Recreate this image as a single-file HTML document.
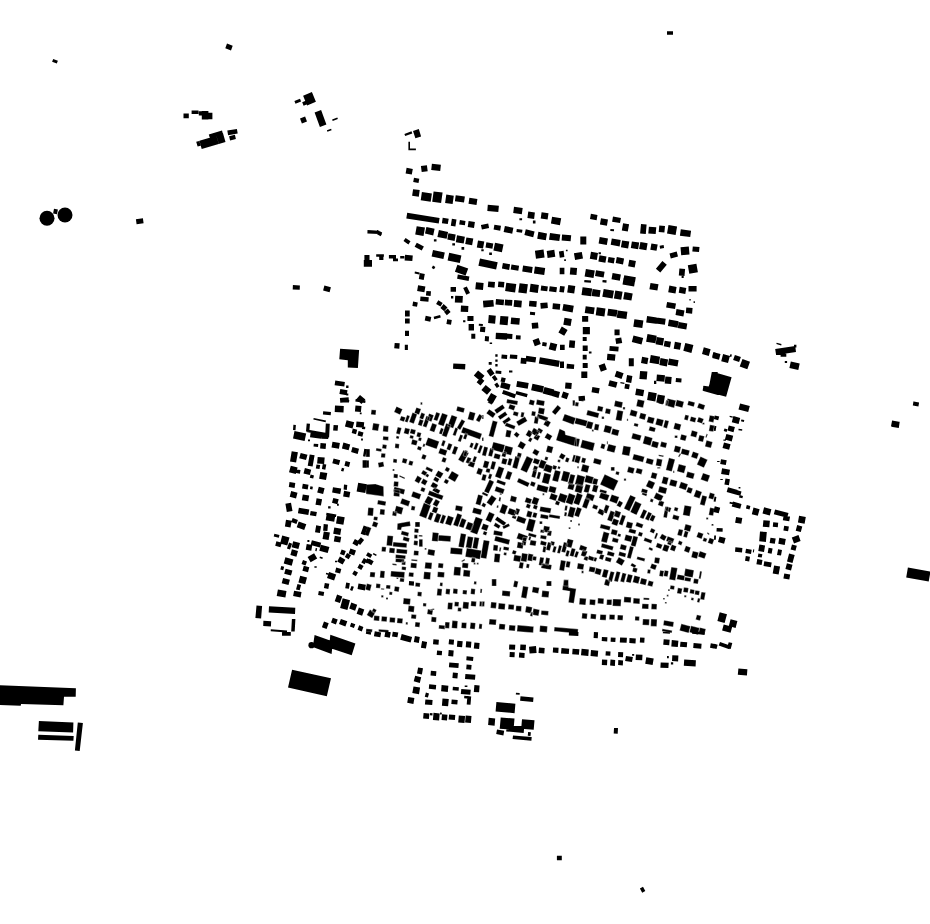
<!DOCTYPE html>
<html><head><meta charset="utf-8"><style>html,body{margin:0;padding:0;background:#fff;width:930px;height:924px;overflow:hidden}svg{display:block}</style></head>
<body><svg width="930" height="924" viewBox="0 0 930 924"><g fill="#000"><path stroke="#fff" stroke-width="0.35" d="M371.4 409.7 376.1 410.1 375.7 414.9 370.9 414.5ZM373.2 423.0 379.4 424.1 378.1 431.0 372.0 429.9ZM383.3 425.6 388.6 426.1 388.1 432.1 382.8 431.6ZM383.1 436.2 388.6 436.7 388.3 440.4 382.8 439.9ZM382.7 444.3 386.9 445.1 386.2 449.0 382.0 448.3ZM376.3 448.0 381.8 449.0 381.3 451.7 375.8 450.7ZM381.3 453.2 385.5 453.5 385.1 457.8 380.9 457.4ZM377.9 462.7 383.3 461.7 384.2 466.6 378.8 467.6ZM365.9 449.0 369.9 449.0 369.9 457.0 365.9 457.0ZM366.0 460.3 369.0 460.3 369.0 467.8 366.0 467.8ZM366.0 484.4 375.4 483.9 383.6 486.4 383.8 496.4 366.0 493.9ZM378.0 500.1 386.1 501.6 385.4 505.8 377.2 504.3ZM368.2 507.5 373.7 508.0 373.0 516.0 367.5 515.5ZM380.2 509.0 384.9 509.4 384.5 514.9 379.7 514.5ZM394.0 489.6 400.0 490.2 399.5 496.7 393.5 496.1ZM402.0 498.2 410.2 501.2 408.4 506.4 400.1 503.4ZM396.2 505.7 403.4 507.7 401.6 514.5 394.3 512.5ZM392.9 511.0 397.1 511.8 396.3 516.2 392.1 515.5ZM411.6 505.8 415.3 506.4 414.6 510.6 410.9 510.0ZM413.0 491.3 421.3 494.3 419.4 499.5 411.1 496.5ZM667.5 398.4 676.0 400.6 674.1 407.9 665.6 405.6ZM676.8 399.8 684.0 401.7 682.4 407.8 675.1 405.8ZM688.5 400.7 695.0 402.5 693.8 406.8 687.3 405.1ZM698.9 403.0 705.2 405.3 703.5 410.0 697.1 407.7ZM675.0 422.7 681.3 424.4 679.7 430.5 673.4 428.8ZM685.3 414.7 689.0 415.6 687.7 420.5 684.0 419.5ZM691.0 416.4 696.3 417.9 695.1 422.5 689.7 421.0ZM698.6 417.0 703.8 418.9 702.0 423.6 696.9 421.8ZM702.4 422.7 704.5 422.7 704.5 424.5 702.4 424.5ZM709.7 415.3 714.6 416.2 713.5 422.4 708.6 421.5ZM709.9 424.8 714.4 425.5 713.3 431.7 708.8 430.9ZM674.7 435.4 677.5 435.4 677.5 437.9 674.7 437.9ZM681.3 434.2 686.9 435.7 685.4 441.1 679.9 439.6ZM691.9 430.3 697.7 431.9 696.2 437.5 690.4 435.9ZM699.4 434.9 704.5 436.3 703.0 442.1 697.9 440.8ZM706.6 433.8 707.8 434.2 706.5 437.8 705.4 437.3ZM706.5 440.3 712.6 442.0 710.9 448.0 704.9 446.4ZM669.0 457.8 675.1 459.4 671.8 471.5 665.8 469.9ZM673.1 470.7 674.3 470.7 674.3 472.9 673.1 472.9ZM675.2 445.4 681.1 447.0 679.4 453.0 673.6 451.5ZM682.1 448.4 689.8 450.5 688.4 455.8 680.7 453.7ZM680.0 453.3 681.1 453.9 679.2 457.2 678.1 456.6ZM693.0 451.4 698.8 453.6 696.9 459.0 691.0 456.9ZM700.5 456.5 707.6 459.8 703.9 467.8 696.8 464.5ZM678.8 464.1 686.1 466.0 684.1 473.3 676.9 471.3ZM687.4 471.6 694.7 473.5 693.2 479.1 685.9 477.1ZM703.0 472.9 710.1 475.4 707.7 482.0 700.6 479.5ZM670.7 479.2 677.5 481.0 675.9 487.0 669.1 485.2ZM680.9 481.8 688.0 484.3 685.8 490.2 678.8 487.7ZM688.2 486.9 692.9 488.6 691.1 493.8 686.3 492.1ZM696.1 489.8 702.0 491.9 699.5 498.5 693.6 496.4ZM702.3 495.2 707.1 496.5 704.6 505.7 699.8 504.4ZM709.9 492.6 714.8 493.9 713.3 499.5 708.4 498.2ZM666.7 506.2 671.4 507.9 669.9 512.2 665.2 510.5ZM674.8 506.9 678.4 507.9 677.4 511.5 673.8 510.5ZM684.5 505.2 691.5 506.4 689.7 516.3 682.8 515.1ZM710.0 507.6 714.5 508.4 713.2 515.8 708.7 515.0ZM374.0 516.4 377.9 517.1 377.3 520.6 373.4 519.9ZM373.5 521.2 378.3 522.9 376.5 527.6 371.8 525.9ZM367.4 526.5 371.4 527.9 368.4 536.2 364.4 534.7ZM397.4 523.5 409.9 521.3 410.6 526.0 401.8 527.3 401.1 530.1 397.1 529.8ZM401.8 530.8 409.0 532.7 408.1 536.4 400.8 534.4ZM403.6 536.6 409.7 538.2 408.7 541.9 402.7 540.2ZM387.4 535.5 393.2 536.0 392.3 546.0 386.5 545.5ZM393.2 542.0 407.0 543.2 406.6 547.7 392.8 546.5ZM381.9 546.7 386.2 547.1 385.7 551.8 381.5 551.5ZM389.5 547.8 395.0 548.3 394.5 553.3 389.0 552.8ZM396.6 548.8 407.3 549.7 407.0 554.0 396.2 553.1ZM395.7 554.5 405.7 555.4 405.4 559.1 395.4 558.2ZM395.7 558.3 404.4 559.1 404.1 562.8 395.4 562.1ZM401.9 561.0 405.7 561.4 405.4 565.1 401.6 564.8ZM392.4 563.6 396.7 564.0 396.6 565.5 392.3 565.1ZM401.9 566.5 406.2 566.9 405.9 570.2 401.6 569.8ZM415.1 521.9 419.9 521.9 419.9 526.9 415.1 526.9ZM414.5 528.5 418.8 528.9 418.4 532.9 414.2 532.5ZM414.2 534.8 417.5 534.8 417.5 538.6 414.2 538.6ZM418.8 534.9 422.5 535.2 422.4 536.7 418.7 536.4ZM414.0 540.6 418.0 540.9 417.6 545.4 413.6 545.1ZM419.0 539.2 422.7 539.2 422.7 546.8 419.0 546.8ZM414.0 550.4 418.8 550.9 418.4 555.6 413.6 555.2ZM411.4 559.2 417.4 559.7 417.3 561.2 411.3 560.7ZM410.9 562.8 416.9 563.3 416.5 568.3 410.5 567.8ZM409.0 572.3 413.8 572.7 413.4 577.0 408.6 576.5ZM424.7 548.0 426.5 548.0 426.5 549.8 424.7 549.8ZM428.3 549.0 435.2 550.2 434.2 555.9 427.3 554.6ZM432.6 532.3 438.8 532.9 438.0 541.6 431.8 541.1ZM438.5 534.9 451.0 536.0 450.5 541.8 438.0 540.7ZM425.3 562.2 432.0 562.8 431.5 569.0 424.7 568.4ZM438.4 563.0 443.4 563.4 443.0 568.2 438.0 567.7ZM424.1 571.7 430.8 572.3 430.2 579.6 423.4 579.0ZM437.8 571.7 444.5 572.3 444.1 577.5 437.3 577.0ZM450.7 547.5 462.7 548.5 462.1 554.8 450.1 553.8ZM460.8 533.2 466.2 534.2 463.8 547.8 458.4 546.8ZM467.7 536.3 473.4 537.3 471.4 548.4 465.7 547.4ZM474.4 537.0 479.3 537.9 477.3 549.0 472.4 548.1ZM466.7 548.0 481.5 550.6 480.0 559.3 465.2 556.7ZM471.9 557.1 475.6 557.8 474.7 562.7 471.0 562.1ZM473.7 562.8 475.5 562.8 475.5 564.6 473.7 564.6ZM476.8 562.8 478.6 562.8 478.6 564.6 476.8 564.6ZM461.3 561.0 464.6 559.1 465.2 560.2 462.0 562.0ZM462.4 562.8 468.4 563.3 468.0 568.3 462.0 567.8ZM454.3 566.7 461.0 567.3 460.3 575.8 453.5 575.2ZM463.6 569.8 470.3 570.4 469.8 576.9 463.0 576.3ZM370.2 571.9 375.2 572.3 374.8 577.3 369.8 576.9ZM380.4 570.7 384.9 571.1 384.3 578.1 379.8 577.7ZM391.0 570.9 404.8 572.1 404.3 577.9 390.5 576.6ZM400.1 578.0 404.3 578.3 404.0 582.1 399.7 581.7ZM396.5 577.6 398.3 577.6 398.3 579.1 396.5 579.1ZM366.9 583.5 371.7 584.8 370.1 590.9 365.3 589.6ZM376.2 583.6 380.5 584.0 380.1 588.2 375.9 587.9ZM381.0 588.3 384.3 588.6 384.1 589.8 380.9 589.5ZM386.3 584.9 390.5 585.2 390.2 589.0 385.9 588.6ZM394.8 586.2 399.5 587.0 398.7 591.9 394.0 591.1ZM389.4 591.8 392.4 592.1 392.1 595.1 389.1 594.8ZM381.2 595.2 383.4 595.2 383.4 597.5 381.2 597.5ZM386.0 597.5 388.0 597.5 388.0 599.5 386.0 599.5ZM415.5 582.5 420.3 582.9 419.9 586.9 415.2 586.5ZM417.7 591.8 421.9 592.1 421.5 596.4 417.3 596.0ZM403.6 598.1 410.6 598.7 410.0 604.7 403.0 604.1ZM408.5 605.6 414.5 606.2 413.9 612.2 407.9 611.6ZM411.4 614.3 416.4 614.8 416.0 619.0 411.0 618.6ZM415.3 622.0 420.1 622.4 419.6 627.2 414.9 626.8ZM423.1 603.0 426.4 603.3 426.1 606.5 422.9 606.2ZM427.9 609.1 433.1 610.0 432.2 615.0 427.0 614.0ZM429.9 609.3 434.1 608.5 434.4 609.8 430.2 610.5ZM431.5 616.8 436.5 617.3 436.1 622.3 431.1 621.8ZM440.1 582.5 442.8 582.8 442.5 586.3 439.8 586.0ZM437.4 588.6 442.1 589.0 441.5 595.8 436.8 595.4ZM446.0 588.8 450.2 589.1 449.7 594.4 445.5 594.0ZM453.3 588.6 457.8 589.0 457.4 594.0 452.9 593.6ZM462.9 589.9 467.1 590.3 466.7 594.5 462.5 594.1ZM471.1 588.6 475.3 589.0 474.8 594.5 470.6 594.1ZM480.4 588.7 482.2 588.9 481.8 593.1 480.1 593.0ZM474.1 581.2 476.6 581.4 476.3 584.4 473.8 584.2ZM448.0 602.4 452.8 602.8 452.2 609.6 447.4 609.2ZM454.7 601.7 459.0 602.1 458.6 606.6 454.3 606.2ZM457.9 607.5 461.4 607.8 461.1 611.6 457.6 611.2ZM463.2 601.8 469.0 602.3 468.4 609.0 462.6 608.5ZM471.2 601.1 476.4 601.6 476.0 606.6 470.7 606.1ZM479.7 601.3 482.2 601.5 481.8 606.5 479.3 606.3ZM439.0 624.9 445.2 625.5 444.9 629.2 438.7 628.7ZM445.2 621.9 449.7 622.3 449.2 628.5 444.7 628.1ZM452.3 620.6 457.8 621.1 457.2 628.6 451.7 628.1ZM461.7 622.4 466.7 622.8 466.2 628.6 461.2 628.1ZM470.5 622.5 475.5 622.9 474.9 629.2 469.9 628.7ZM479.2 623.8 482.2 624.1 481.8 629.1 478.8 628.8ZM369.9 609.6 375.3 612.8 372.2 618.2 366.7 615.1ZM373.5 608.2 376.7 610.1 374.8 613.4 371.6 611.5ZM374.1 615.6 379.6 616.0 379.2 621.1 373.7 620.6ZM381.7 616.2 387.2 616.7 386.7 621.7 381.2 621.2ZM389.8 617.2 395.3 617.7 394.9 622.7 389.4 622.2ZM397.4 618.1 402.9 618.6 402.4 623.6 396.9 623.1ZM405.9 622.0 407.9 622.2 407.7 624.7 405.7 624.5ZM366.1 628.7 372.4 629.3 372.1 632.3 365.9 631.7ZM378.7 629.2 388.7 630.1 388.5 632.6 378.5 631.7ZM502.3 590.5 510.3 591.2 509.9 596.4 501.9 595.7ZM523.0 586.0 528.4 587.0 526.4 598.4 521.0 597.4ZM532.9 586.7 539.3 587.8 538.3 593.5 531.9 592.3ZM542.2 590.6 549.2 591.3 548.6 597.5 541.6 596.9ZM563.6 580.0 568.6 579.8 568.6 587.6 576.2 588.8 573.9 603.2 568.4 602.6 569.9 591.3 562.3 590.1ZM579.7 598.1 586.2 598.6 585.6 605.1 579.1 604.6ZM589.8 599.2 595.6 599.7 595.1 605.2 589.4 604.7ZM482.2 601.3 484.7 601.5 484.3 606.5 481.8 606.3ZM491.1 601.9 496.6 602.4 496.0 608.4 490.5 607.9ZM498.6 603.1 505.3 603.7 504.8 609.7 498.1 609.1ZM508.5 604.3 514.2 604.8 513.8 609.8 508.0 609.3ZM516.1 605.7 521.6 606.1 521.2 611.4 515.7 610.9ZM526.2 606.1 532.3 607.2 531.2 613.4 525.1 612.3ZM533.4 608.6 539.6 609.7 538.5 615.9 532.3 614.8ZM530.7 611.8 533.2 612.3 532.5 616.5 530.0 616.1ZM541.3 610.5 548.6 611.1 548.2 615.4 541.0 614.7ZM582.2 613.1 587.4 613.5 586.9 619.0 581.7 618.6ZM590.8 613.7 596.3 614.2 595.9 619.2 590.4 618.7ZM489.4 619.0 496.4 619.6 495.9 625.1 488.9 624.5ZM499.3 623.7 505.3 624.2 504.8 629.7 498.8 629.2ZM509.2 625.0 515.5 625.5 515.0 631.0 508.8 630.5ZM517.5 625.1 533.7 626.6 533.2 632.8 516.9 631.4ZM540.0 625.5 547.5 626.2 547.0 632.4 539.5 631.8ZM554.4 627.1 578.2 629.1 577.8 633.4 554.0 631.3ZM679.1 540.6 682.6 541.9 681.3 545.4 677.8 544.1ZM678.9 529.0 683.2 530.1 681.6 536.2 677.2 535.0ZM685.5 524.1 691.6 525.7 690.0 531.8 683.9 530.1ZM684.9 530.7 688.5 531.7 686.9 537.7 683.2 536.7ZM698.3 531.9 703.5 533.8 701.6 539.0 696.4 537.1ZM703.8 537.6 707.3 538.8 706.1 542.1 702.6 540.9ZM709.6 537.7 714.3 539.4 712.4 544.6 707.7 542.8ZM707.7 532.3 709.6 533.9 708.8 534.9 706.9 533.2ZM685.9 545.7 690.8 547.5 688.9 552.9 683.9 551.1ZM692.8 551.0 698.7 552.5 697.0 558.8 691.2 557.3ZM699.9 551.0 706.5 553.4 704.5 558.8 697.9 556.4ZM673.4 514.6 679.4 516.3 678.3 520.4 672.2 518.8ZM706.2 517.5 708.2 517.5 708.2 519.5 706.2 519.5ZM711.5 523.9 713.5 523.9 713.5 525.7 711.5 525.7ZM671.3 567.0 677.5 568.1 675.3 580.5 669.1 579.4ZM677.6 574.4 685.0 575.7 684.1 580.6 676.7 579.3ZM685.3 568.6 694.0 570.2 692.7 577.6 684.0 576.1ZM685.0 577.0 691.2 578.1 690.5 581.8 684.3 580.7ZM694.0 578.5 698.7 579.3 697.9 584.0 693.2 583.2ZM700.0 571.1 702.0 571.5 700.6 578.9 698.7 578.5ZM668.0 589.2 669.8 589.2 669.8 590.9 668.0 590.9ZM666.8 594.8 668.5 594.8 668.5 596.6 666.8 596.6ZM663.0 598.1 664.8 598.1 664.8 599.6 663.0 599.6ZM664.9 601.9 666.7 601.9 666.7 603.4 664.9 603.4ZM670.5 585.3 674.7 586.1 674.1 589.8 669.9 589.0ZM677.9 587.8 682.3 588.6 681.3 594.1 676.9 593.3ZM683.9 587.3 688.6 588.1 687.8 592.8 683.1 592.0ZM690.3 589.1 694.7 589.9 694.0 594.1 689.6 593.3ZM695.3 590.3 699.8 591.1 699.0 595.3 694.6 594.5ZM701.4 591.9 705.6 592.6 704.3 600.0 700.1 599.3ZM684.2 595.3 686.3 595.3 686.3 597.3 684.2 597.3ZM691.4 597.6 693.9 598.1 693.4 600.6 690.9 600.1ZM698.0 598.0 700.4 598.6 699.3 602.7 696.9 602.1ZM597.9 598.1 603.9 598.4 603.6 603.9 597.6 603.6ZM606.9 599.4 611.9 599.6 611.7 605.1 606.6 604.9ZM612.9 598.9 621.2 599.3 620.8 606.3 612.5 605.9ZM624.1 596.8 631.2 597.2 630.9 602.7 623.8 602.3ZM633.4 598.1 639.9 598.4 639.7 603.9 633.1 603.6ZM643.5 597.7 649.3 598.0 649.2 600.0 643.4 599.7ZM642.2 603.7 648.7 604.0 648.5 609.1 641.9 608.7ZM651.5 603.7 657.0 604.0 656.7 609.5 651.2 609.2ZM600.2 614.4 606.2 614.7 605.9 620.2 599.9 619.9ZM609.4 614.4 614.9 614.7 614.7 619.7 609.2 619.4ZM617.6 615.0 623.1 615.3 622.8 620.3 617.3 620.0ZM635.1 616.3 639.4 616.5 639.2 620.8 634.9 620.6ZM642.9 618.9 649.4 619.2 649.1 625.3 642.5 624.9ZM651.0 618.9 657.1 619.2 656.7 626.5 650.7 626.2ZM664.0 620.2 673.9 622.0 673.1 626.9 663.2 625.2ZM681.3 623.8 690.5 626.3 688.7 633.1 679.5 630.6ZM691.0 625.8 699.8 628.1 698.0 634.7 689.3 632.3ZM696.9 614.7 701.3 615.8 700.0 620.7 695.6 619.5ZM699.8 627.4 705.9 629.0 704.3 635.1 698.2 633.5ZM662.3 628.8 672.2 630.5 671.8 633.0 661.9 631.2ZM489.5 399.3 493.5 401.6 491.7 404.7 487.6 402.4ZM507.1 399.1 518.0 401.0 517.3 405.0 506.4 403.0ZM509.8 404.0 515.5 406.1 513.9 410.5 508.3 408.4ZM530.0 399.4 534.9 400.7 533.6 405.6 528.7 404.3ZM536.9 399.6 544.8 401.0 543.9 406.0 536.0 404.6ZM572.6 400.2 575.0 400.2 575.0 405.8 572.6 405.8ZM489.2 409.2 495.8 413.8 492.9 418.0 486.3 413.3ZM494.2 410.1 502.5 404.4 505.0 408.0 496.8 413.8ZM497.8 416.6 505.2 411.4 507.5 414.7 500.1 419.8ZM502.3 421.5 508.9 416.8 511.0 419.8 504.4 424.4ZM506.1 422.5 515.5 426.0 514.3 429.4 504.8 426.0ZM482.0 414.9 483.6 414.9 483.6 418.9 482.0 418.9ZM492.7 420.5 497.6 421.8 493.4 437.3 488.6 436.0ZM506.5 429.8 511.5 430.7 510.2 437.6 505.3 436.8ZM516.3 431.8 519.7 434.6 517.1 437.7 513.7 434.8ZM513.8 411.2 518.7 412.5 517.6 416.4 512.8 415.1ZM521.4 412.1 524.4 412.6 523.5 417.5 520.5 417.0ZM516.1 421.7 524.9 416.6 527.4 421.0 518.7 426.0ZM532.0 411.0 535.9 411.7 535.1 416.2 531.2 415.5ZM538.9 407.6 544.9 408.6 543.8 414.6 537.9 413.5ZM537.9 413.8 548.3 417.6 546.9 421.4 536.5 417.6ZM535.0 416.3 538.9 417.0 537.7 423.9 533.8 423.3ZM546.2 419.6 550.9 422.3 548.1 427.2 543.4 424.4ZM557.6 405.1 561.2 408.1 555.3 415.0 551.8 412.0ZM564.6 413.9 575.9 418.1 573.5 424.7 562.2 420.6ZM559.5 428.7 565.0 431.2 565.5 434.7 576.6 437.7 576.6 446.8 556.0 440.3ZM528.6 429.8 533.0 432.4 530.0 437.6 525.6 435.1ZM533.8 427.8 539.9 431.4 536.9 436.6 530.8 433.1ZM538.7 427.7 543.1 430.2 541.0 433.7 536.7 431.2ZM535.9 433.8 540.3 436.3 537.8 440.7 533.4 438.2ZM530.0 437.3 532.6 438.8 530.6 442.3 528.0 440.7ZM547.2 432.9 552.4 435.9 549.7 440.6 544.5 437.6ZM520.6 441.0 526.0 444.2 522.9 449.6 517.5 446.4ZM547.6 445.4 553.4 447.0 551.7 453.2 545.9 451.7ZM534.7 448.8 539.5 451.6 537.0 455.9 532.2 453.1ZM482.0 437.4 483.6 437.4 483.6 441.1 482.0 441.1ZM493.3 441.9 505.0 445.0 502.9 452.8 491.2 449.6ZM505.3 445.4 513.1 447.5 511.0 455.3 503.2 453.2ZM494.8 453.2 500.7 454.7 499.4 459.6 493.5 458.0ZM502.9 451.4 506.7 452.4 505.4 457.3 501.5 456.3ZM484.2 446.4 488.1 447.5 485.8 456.2 481.9 455.2ZM490.2 447.9 494.0 449.0 492.0 456.8 488.1 455.7ZM502.6 458.0 507.5 459.3 506.0 464.8 501.2 463.5ZM509.0 458.0 512.5 459.0 510.7 465.8 507.2 464.8ZM517.9 452.4 521.8 453.5 520.5 458.3 516.6 457.3ZM515.4 455.9 520.2 457.2 517.1 468.9 512.2 467.6ZM526.8 456.1 533.2 459.1 526.8 472.7 520.4 469.8ZM534.4 458.0 540.1 460.1 538.3 464.8 532.7 462.7ZM540.9 459.6 546.6 461.7 543.9 469.2 538.2 467.2ZM534.3 465.4 538.1 466.8 536.4 471.5 532.6 470.1ZM545.4 456.5 548.3 457.3 547.4 460.6 544.5 459.8ZM545.6 463.8 553.1 466.5 550.7 473.1 543.1 470.4ZM553.3 464.9 557.1 466.2 555.7 470.0 551.9 468.6ZM558.3 466.1 560.5 466.9 559.7 469.2 557.5 468.4ZM561.3 452.9 565.7 455.4 563.1 459.8 558.8 457.3ZM566.4 457.2 569.6 458.4 568.1 462.6 564.9 461.4ZM557.9 459.4 560.5 459.8 560.1 462.4 557.5 462.0ZM573.5 454.7 575.9 455.3 574.1 462.1 571.7 461.5ZM484.5 460.4 489.4 461.7 487.5 468.5 482.7 467.2ZM492.2 461.0 496.1 462.1 494.0 469.8 490.1 468.8ZM486.6 468.0 490.5 469.0 489.5 472.9 485.6 471.9ZM498.7 466.2 504.3 468.3 500.6 478.7 494.9 476.6ZM507.7 470.8 512.4 472.6 509.7 480.1 504.9 478.4ZM482.9 474.1 486.7 475.1 485.2 480.9 481.3 479.9ZM489.5 473.6 492.3 474.6 490.6 479.4 487.8 478.3ZM489.5 479.6 494.1 481.7 488.6 493.6 484.0 491.4ZM497.5 479.4 506.0 482.5 504.8 485.7 496.3 482.6ZM496.2 486.2 504.7 489.3 503.0 494.0 494.5 490.9ZM518.7 478.0 529.7 483.1 527.8 487.1 516.9 482.0ZM531.4 481.2 535.8 482.8 534.2 486.9 529.9 485.3ZM533.4 469.1 537.3 470.1 535.2 477.9 531.4 476.8ZM538.3 471.7 541.2 472.5 539.4 479.3 536.5 478.5ZM544.3 472.7 551.1 474.6 548.5 484.3 541.7 482.5ZM555.0 469.9 560.8 471.4 558.0 482.1 552.1 480.6ZM563.4 470.7 570.2 472.5 567.6 482.3 560.8 480.4ZM570.5 474.0 575.3 475.3 572.7 485.0 567.8 483.7ZM537.8 484.2 548.5 487.1 547.0 492.9 536.3 490.1ZM549.8 485.8 556.6 487.6 555.1 493.4 548.3 491.6ZM568.9 482.9 574.8 484.4 573.2 490.3 567.4 488.7ZM575.4 401.9 578.9 402.6 578.2 406.5 574.7 405.9ZM579.7 399.6 583.6 400.3 583.4 401.4 579.5 400.7ZM615.2 400.6 622.9 402.2 621.7 407.9 614.0 406.3ZM622.9 407.1 625.1 407.1 625.1 409.4 622.9 409.4ZM637.7 399.3 644.6 400.8 643.1 407.7 636.2 406.2ZM659.2 399.5 663.8 400.4 662.9 404.6 658.4 403.6ZM666.1 400.0 668.5 400.5 667.5 406.0 665.1 405.6ZM598.0 405.7 603.3 406.9 602.3 411.8 597.0 410.7ZM606.0 408.3 610.9 409.3 609.9 414.3 604.9 413.2ZM587.6 410.1 599.3 413.2 598.0 418.1 586.3 415.0ZM601.7 416.6 604.1 416.6 604.1 419.0 601.7 419.0ZM617.4 410.1 623.3 411.2 621.6 421.1 615.6 420.0ZM626.9 418.7 628.1 418.7 628.1 420.9 626.9 420.9ZM631.0 409.6 637.6 411.4 636.1 417.0 629.5 415.2ZM640.5 412.7 646.3 414.3 644.8 419.9 639.0 418.3ZM648.3 416.4 654.7 418.1 653.1 423.9 646.7 422.2ZM657.0 418.2 663.8 420.0 662.1 426.5 655.3 424.6ZM665.1 419.9 669.0 421.0 667.0 428.4 663.2 427.3ZM634.4 422.9 638.5 424.0 637.7 426.9 633.7 425.8ZM649.8 426.2 655.8 427.9 654.6 432.1 648.6 430.5ZM576.0 417.7 587.7 420.8 586.1 426.6 574.4 423.5ZM587.6 421.0 593.4 422.5 591.6 429.3 585.8 427.8ZM595.0 423.8 599.3 424.6 598.3 430.5 593.9 429.8ZM591.9 429.4 593.7 429.4 593.7 431.4 591.9 431.4ZM605.2 424.9 612.0 426.7 610.2 433.5 603.4 431.7ZM612.6 428.4 619.4 430.2 617.9 436.0 611.1 434.2ZM632.8 433.0 641.5 435.4 640.0 440.8 631.3 438.5ZM644.8 435.8 652.6 437.9 650.5 445.7 642.7 443.6ZM652.6 440.7 659.0 442.4 657.4 448.3 651.0 446.5ZM661.3 441.6 667.1 443.1 665.8 448.0 660.0 446.4ZM575.5 438.1 579.9 438.9 578.5 446.8 574.1 446.1ZM582.3 439.7 594.9 443.1 592.9 450.9 580.2 447.5ZM601.6 443.4 605.5 444.5 604.2 449.2 600.3 448.1ZM606.9 441.3 607.9 441.3 607.9 444.3 606.9 444.3ZM608.5 443.9 616.2 446.0 614.4 452.8 606.6 450.7ZM623.4 445.7 630.9 447.0 629.3 456.0 621.8 454.6ZM633.8 453.9 644.5 456.8 643.0 462.2 632.3 459.4ZM647.0 457.9 653.8 459.7 652.4 464.9 645.6 463.1ZM656.9 458.6 662.4 459.6 661.2 466.6 655.7 465.6ZM658.7 454.7 663.7 455.6 663.4 457.0 658.5 456.1ZM657.2 467.2 660.3 467.2 660.3 468.6 657.2 468.6ZM576.0 455.3 580.9 456.6 579.0 463.4 574.2 462.1ZM582.3 457.4 586.2 458.5 584.8 463.3 581.0 462.3ZM594.3 458.1 601.7 460.1 600.4 465.1 593.0 463.1ZM577.2 466.2 578.8 466.2 578.8 468.2 577.2 468.2ZM582.6 464.1 589.4 466.0 587.6 472.8 580.8 470.9ZM610.9 467.1 614.6 467.1 614.6 470.8 610.9 470.8ZM616.2 471.2 619.5 472.1 618.7 475.2 615.4 474.3ZM628.5 466.6 634.7 468.3 633.2 473.7 627.0 472.0ZM636.9 468.0 642.7 469.5 641.4 474.4 635.5 472.8ZM652.1 472.2 657.4 473.6 655.9 479.2 650.6 477.8ZM623.9 478.6 626.1 478.6 626.1 480.8 623.9 480.8ZM577.4 474.6 585.2 476.7 582.6 486.4 574.8 484.3ZM586.1 475.1 593.9 477.2 592.1 484.0 584.3 481.9ZM593.5 478.0 598.3 479.3 596.8 485.1 591.9 483.8ZM576.7 483.8 583.5 485.6 581.4 493.4 574.6 491.6ZM585.7 484.0 590.6 485.3 588.5 493.1 583.6 491.8ZM593.6 484.5 598.5 485.8 596.6 492.6 591.8 491.3ZM604.7 474.3 618.4 480.7 613.7 490.7 600.0 484.4ZM663.3 476.4 668.7 477.8 666.9 484.7 661.5 483.2ZM648.8 479.9 655.2 482.8 652.2 489.2 645.8 486.3ZM659.5 486.1 667.2 488.2 665.7 494.0 657.9 492.0ZM642.1 488.4 647.9 489.9 646.8 493.8 641.0 492.3ZM600.2 489.2 607.0 491.0 606.2 494.0 599.4 492.1ZM482.8 491.8 488.3 494.4 487.2 496.6 481.8 494.0ZM491.7 495.1 496.6 498.6 491.4 506.0 486.5 502.5ZM483.1 502.6 486.3 504.4 484.5 507.6 481.3 505.7ZM499.3 497.1 501.1 497.4 500.4 501.4 498.6 501.1ZM497.0 505.2 498.6 505.4 498.2 508.0 496.6 507.7ZM499.8 493.2 501.8 493.2 501.8 494.8 499.8 494.8ZM511.2 495.6 517.0 497.2 515.6 502.4 509.8 500.9ZM526.3 497.2 532.0 499.2 530.3 503.9 524.6 501.9ZM533.7 496.7 539.4 498.8 537.0 505.4 531.3 503.3ZM527.1 503.5 530.9 504.9 529.5 508.7 525.7 507.3ZM534.1 504.5 537.9 505.9 536.5 509.7 532.8 508.3ZM542.5 493.2 544.3 493.2 544.3 495.2 542.5 495.2ZM551.2 493.0 557.8 495.4 555.7 501.1 549.1 498.7ZM560.1 492.9 567.7 495.6 564.9 503.2 557.4 500.4ZM569.0 493.1 575.6 495.5 572.2 505.0 565.5 502.6ZM556.3 500.5 560.1 501.9 558.7 505.6 554.9 504.3ZM502.4 503.8 508.0 505.9 504.9 514.4 499.3 512.3ZM509.4 507.9 517.0 510.7 514.9 516.3 507.4 513.6ZM516.4 508.1 520.2 509.5 518.1 515.1 514.3 513.8ZM489.2 511.8 494.7 514.3 490.9 522.5 485.4 520.0ZM497.2 516.4 506.3 522.7 504.0 526.0 494.9 519.7ZM502.3 526.3 508.7 523.4 510.0 526.1 503.6 529.1ZM495.4 522.6 500.6 525.7 498.8 528.8 493.6 525.8ZM512.8 515.1 516.6 516.5 515.6 519.2 511.8 517.8ZM518.0 515.7 526.5 518.8 524.5 524.1 516.0 521.0ZM527.7 510.6 532.5 511.9 531.0 517.7 526.1 516.4ZM533.6 512.2 537.4 513.2 536.1 518.1 532.2 517.1ZM529.0 518.5 535.8 520.3 532.7 532.0 525.9 530.1ZM540.4 506.4 551.3 508.3 550.4 513.2 539.5 511.3ZM540.8 514.0 548.7 515.4 548.0 519.3 540.1 517.9ZM549.3 514.2 560.2 516.1 559.7 519.1 548.8 517.2ZM539.5 521.3 542.3 521.3 542.3 524.1 539.5 524.1ZM565.3 505.4 567.7 505.8 566.8 510.8 564.4 510.4ZM564.7 511.9 567.1 512.4 566.4 516.3 564.0 515.9ZM570.0 506.5 575.8 508.0 573.2 517.8 567.4 516.2ZM570.2 519.9 572.0 519.9 572.0 521.9 570.2 521.9ZM568.7 527.3 570.5 527.3 570.5 529.1 568.7 529.1ZM483.2 523.4 488.9 525.4 486.8 531.1 481.1 529.0ZM483.9 530.9 487.3 532.2 486.1 535.6 482.7 534.3ZM494.0 530.3 502.9 531.9 502.2 536.2 493.3 534.7ZM495.5 535.9 510.1 539.8 508.8 544.7 494.2 540.8ZM483.6 539.9 489.6 541.0 486.4 558.8 480.5 557.8ZM493.5 544.8 498.1 545.3 497.6 550.9 493.0 550.5ZM499.7 547.2 501.3 547.5 500.6 551.5 499.0 551.2ZM503.7 546.4 509.2 547.4 508.6 550.7 503.1 549.8ZM504.0 552.3 506.8 552.8 506.3 555.5 503.5 555.0ZM494.7 553.4 500.3 553.9 499.5 562.5 493.9 562.0ZM518.6 532.7 528.0 536.2 526.0 541.8 516.5 538.4ZM523.0 537.0 527.0 537.7 525.6 545.6 521.6 544.9ZM517.8 541.8 523.7 542.9 522.7 548.8 516.8 547.8ZM528.8 532.8 536.6 534.9 535.8 537.8 528.0 535.7ZM529.4 536.1 531.3 536.6 530.3 540.5 528.3 540.0ZM530.5 540.0 536.4 541.1 535.6 546.0 529.6 545.0ZM544.0 525.7 549.9 526.8 548.9 532.7 542.9 531.7ZM547.9 530.4 551.9 531.1 551.0 536.1 547.0 535.4ZM540.7 529.4 544.6 530.1 544.1 533.1 540.1 532.4ZM540.7 535.1 546.7 536.1 546.1 539.5 540.1 538.4ZM541.0 540.6 546.8 542.2 545.8 546.1 540.0 544.5ZM543.4 546.1 546.4 546.7 545.4 552.6 542.4 552.1ZM548.0 541.9 551.9 543.0 549.8 550.8 545.9 549.7ZM553.8 546.1 556.7 546.8 555.1 552.7 552.2 551.9ZM559.1 545.1 562.0 545.9 559.9 553.6 557.0 552.9ZM563.9 542.0 567.8 543.0 565.2 552.7 561.3 551.7ZM567.7 538.7 573.5 540.2 571.4 548.0 565.6 546.4ZM571.7 548.0 575.6 549.0 573.5 556.8 569.6 555.8ZM566.9 550.1 569.8 550.9 568.2 556.7 565.3 555.9ZM551.0 540.9 554.9 541.9 553.9 545.8 550.0 544.8ZM513.1 549.9 516.7 551.2 515.4 554.8 511.8 553.5ZM514.3 554.8 521.2 556.1 520.2 562.0 513.2 560.8ZM522.0 552.9 527.9 554.0 526.5 561.9 520.6 560.9ZM528.4 553.5 533.4 554.4 532.2 561.3 527.2 560.5ZM532.7 556.1 536.7 556.8 536.0 560.8 532.0 560.1ZM519.8 562.1 523.8 562.8 522.7 568.8 518.7 568.1ZM526.7 563.7 529.6 564.3 528.9 568.2 526.0 567.7ZM540.1 557.1 544.1 557.8 542.7 565.8 538.7 565.1ZM546.1 557.6 550.0 558.3 548.8 565.3 544.8 564.6ZM541.9 563.1 551.8 564.9 550.9 569.8 541.0 568.1ZM560.9 560.1 565.9 561.0 564.1 570.9 559.2 570.0ZM566.6 561.1 570.6 561.8 569.5 567.8 565.6 567.1ZM491.8 579.1 496.4 579.1 496.4 586.1 491.8 586.1ZM514.4 580.6 518.3 581.5 517.0 587.6 513.1 586.7ZM546.4 581.1 551.5 581.1 551.5 586.1 546.4 586.1ZM563.9 579.4 568.7 579.8 568.2 586.2 563.4 585.8ZM577.1 492.8 582.8 494.9 579.0 505.3 573.3 503.2ZM577.2 507.0 581.9 508.7 578.8 517.2 574.1 515.5ZM585.4 497.5 590.2 499.2 586.7 508.7 582.0 506.9ZM587.3 492.8 594.9 495.6 592.8 501.2 585.3 498.5ZM593.5 504.3 598.2 506.1 596.8 509.8 592.1 508.1ZM601.0 492.1 609.5 495.2 607.4 500.9 598.9 497.8ZM611.7 494.4 619.2 497.1 616.8 503.7 609.3 501.0ZM619.3 500.5 623.1 502.7 620.3 507.6 616.5 505.4ZM630.3 494.9 635.8 497.5 629.4 511.2 623.9 508.6ZM635.3 501.1 641.6 504.1 636.5 515.1 630.2 512.1ZM643.5 509.2 647.2 510.9 643.4 519.1 639.7 517.4ZM648.4 511.7 652.0 513.4 648.6 520.7 645.0 518.9ZM652.0 514.6 655.6 516.3 653.1 521.8 649.4 520.0ZM642.5 492.2 647.2 493.9 646.4 496.2 641.7 494.5ZM656.2 492.6 663.5 496.0 660.9 501.5 653.6 498.1ZM650.8 498.6 653.6 499.6 652.6 502.5 649.8 501.5ZM659.6 500.3 664.3 502.1 662.6 506.8 657.8 505.1ZM665.3 506.4 668.8 507.0 666.9 517.9 663.3 517.3ZM599.5 508.6 605.0 511.1 602.8 515.7 597.4 513.1ZM605.7 504.6 609.5 506.0 606.7 513.6 602.9 512.2ZM610.6 510.6 615.3 512.3 611.9 521.7 607.1 520.0ZM615.5 510.3 621.1 512.3 619.1 518.0 613.4 515.9ZM622.1 514.8 625.9 516.1 622.5 525.6 618.7 524.2ZM613.5 518.3 619.1 520.4 617.1 526.1 611.4 524.0ZM578.1 523.4 579.9 523.4 579.9 525.4 578.1 525.4ZM600.9 524.0 610.6 526.6 609.5 530.5 599.8 527.9ZM603.6 531.6 609.4 533.2 606.8 542.9 601.0 541.4ZM612.0 529.0 617.8 530.6 616.5 535.5 610.7 533.9ZM612.9 537.6 618.7 539.1 617.7 543.0 611.8 541.5ZM618.2 533.4 621.1 534.2 620.4 537.1 617.4 536.3ZM627.2 521.5 633.1 523.1 631.5 528.9 625.7 527.3ZM636.8 522.1 643.4 524.5 642.0 528.3 635.4 525.9ZM629.5 528.4 636.3 530.2 635.3 534.1 628.4 532.3ZM639.2 531.7 643.0 533.1 641.6 536.8 637.8 535.5ZM625.7 534.5 632.5 536.3 631.0 542.1 624.2 540.3ZM633.3 535.8 638.1 537.1 635.5 546.8 630.7 545.5ZM621.0 544.1 626.9 545.7 625.6 550.6 619.7 549.0ZM630.0 546.0 633.9 547.1 630.7 558.7 626.9 557.7ZM619.4 551.5 626.2 553.4 625.2 557.3 618.4 555.4ZM644.8 537.5 652.3 540.3 651.2 543.5 643.6 540.7ZM601.9 543.3 613.6 546.5 612.5 550.4 600.9 547.2ZM597.3 549.4 603.1 550.9 602.1 554.8 596.2 553.2ZM607.9 551.0 614.7 552.9 613.6 556.8 606.8 554.9ZM580.6 544.8 587.2 547.2 585.5 551.9 578.9 549.5ZM576.1 551.0 579.0 552.1 576.9 557.8 574.1 556.7ZM582.7 549.7 587.5 551.4 585.4 557.1 580.7 555.4ZM589.0 555.5 594.6 557.6 593.3 561.3 587.6 559.3ZM584.9 555.8 588.7 557.2 587.3 561.0 583.5 559.6ZM594.4 557.0 597.2 558.1 595.9 561.8 593.0 560.8ZM600.6 553.9 604.4 555.2 602.7 560.0 598.9 558.6ZM605.8 556.7 611.7 558.3 610.6 562.2 604.8 560.6ZM618.8 557.1 624.9 560.6 621.8 565.8 615.7 562.3ZM637.4 556.4 645.2 558.5 644.4 561.4 636.6 559.3ZM632.0 562.9 636.3 565.4 634.8 568.0 630.4 565.5ZM633.3 567.3 637.6 568.4 636.5 572.7 632.2 571.6ZM655.0 557.2 660.0 558.1 659.0 563.7 654.1 562.8ZM651.7 563.4 657.0 565.3 655.3 570.0 650.0 568.1ZM647.8 569.3 650.8 569.8 650.1 573.8 647.1 573.2ZM660.1 570.2 664.1 570.9 663.0 576.8 659.1 576.1ZM664.6 570.2 668.6 570.9 667.6 576.8 663.6 576.1ZM577.9 563.1 584.2 564.3 583.2 569.8 576.9 568.7ZM581.5 570.8 583.6 570.8 583.6 573.2 581.5 573.2ZM589.6 566.5 595.5 567.5 594.6 572.5 588.7 571.5ZM596.0 567.8 601.8 569.4 600.3 575.2 594.5 573.6ZM603.8 569.0 608.7 570.3 606.6 578.1 601.7 576.8ZM610.6 571.2 614.5 572.2 611.9 581.9 608.0 580.9ZM616.6 571.2 620.5 572.2 617.9 581.9 614.0 580.9ZM622.5 572.7 626.4 573.7 624.1 582.4 620.2 581.4ZM628.0 574.0 632.8 575.3 630.7 583.1 625.9 581.8ZM634.4 575.4 640.2 576.9 638.4 583.7 632.6 582.2ZM641.3 577.9 647.1 579.4 645.6 585.3 639.7 583.7ZM648.7 580.5 653.6 581.8 652.3 586.7 647.4 585.4ZM605.6 579.0 610.4 580.3 608.9 586.2 604.0 584.8ZM420.5 402.3 422.3 402.3 422.3 404.7 420.5 404.7ZM396.5 406.4 402.5 409.2 400.0 414.7 394.0 411.9ZM401.2 415.9 405.6 417.4 404.0 421.8 399.6 420.2ZM407.1 415.0 409.9 416.0 407.5 422.6 404.7 421.6ZM412.5 412.5 417.2 414.2 413.8 423.7 409.1 422.0ZM416.4 407.4 421.1 409.1 419.0 414.8 414.3 413.0ZM421.4 412.6 425.1 414.0 423.1 419.6 419.3 418.3ZM419.8 419.1 423.6 420.5 421.6 426.2 417.8 424.8ZM426.4 415.8 430.2 417.1 426.4 427.5 422.7 426.2ZM429.1 413.4 433.8 415.2 431.4 421.8 426.7 420.1ZM436.3 412.1 440.1 413.5 437.3 421.1 433.5 419.7ZM432.3 423.0 437.0 424.8 434.3 432.3 429.5 430.6ZM442.1 412.9 447.8 415.0 443.6 426.3 437.9 424.3ZM441.0 427.8 443.8 428.9 441.7 434.6 438.9 433.5ZM446.2 423.2 451.0 424.9 446.5 437.2 441.8 435.5ZM451.6 414.9 457.3 417.0 453.2 428.3 447.5 426.3ZM455.4 427.4 458.2 428.4 455.5 436.0 452.6 435.0ZM461.7 419.3 465.2 421.3 460.2 430.0 456.7 428.0ZM457.4 406.3 464.8 408.3 463.6 412.8 456.2 410.8ZM469.7 411.4 475.5 413.0 473.4 420.8 467.6 419.2ZM479.3 414.1 482.8 416.1 479.3 422.2 475.8 420.2ZM463.1 426.9 482.0 433.8 480.0 439.5 461.0 432.6ZM465.1 432.9 467.9 433.9 465.9 439.6 463.0 438.6ZM460.3 434.4 463.1 435.5 460.7 442.1 457.8 441.0ZM471.0 442.4 473.8 443.4 472.1 448.2 469.3 447.1ZM475.9 442.5 478.7 443.5 476.3 450.1 473.4 449.1ZM480.1 445.0 482.9 446.1 480.1 453.6 477.3 452.6ZM397.7 427.0 401.6 428.0 399.8 434.4 396.0 433.4ZM405.1 427.8 410.0 429.1 408.5 434.6 403.7 433.3ZM411.0 428.8 415.9 430.1 414.7 434.6 409.8 433.3ZM417.5 432.0 421.4 433.0 420.2 437.5 416.4 436.4ZM396.5 435.8 399.3 436.5 398.6 439.1 395.9 438.3ZM410.3 435.0 413.8 436.0 413.0 438.9 409.5 437.9ZM412.3 439.3 417.7 440.8 416.4 445.6 411.0 444.2ZM418.9 437.2 421.8 438.0 420.9 441.3 418.0 440.5ZM418.1 445.9 421.9 447.3 420.7 450.7 416.9 449.3ZM423.5 443.5 425.4 444.2 424.4 447.1 422.5 446.4ZM428.0 437.4 439.3 441.6 436.6 449.1 425.2 445.0ZM442.9 440.1 445.7 441.1 443.8 446.4 441.0 445.4ZM448.6 443.0 452.4 444.4 450.1 450.6 446.4 449.2ZM440.2 447.9 447.4 450.5 445.5 455.8 438.3 453.2ZM454.4 445.9 458.2 447.2 455.4 454.8 451.7 453.4ZM463.6 450.1 468.9 453.1 463.3 462.7 458.1 459.7ZM467.7 456.9 471.4 458.2 469.4 463.9 465.6 462.5ZM469.6 461.0 475.2 463.1 473.5 467.8 467.8 465.8ZM474.2 456.0 477.0 457.1 474.9 462.7 472.1 461.7ZM465.1 450.0 467.9 451.0 465.9 456.7 463.0 455.7ZM478.3 467.8 483.0 469.5 480.9 475.2 476.2 473.4ZM395.2 443.6 399.3 444.0 398.9 448.4 394.9 448.0ZM422.8 454.0 426.6 455.4 425.0 459.7 421.2 458.4ZM443.0 457.0 446.7 458.4 445.2 462.8 441.4 461.4ZM393.3 458.8 397.1 459.2 396.8 463.0 393.0 462.6ZM403.0 458.1 407.4 459.3 406.2 463.7 401.8 462.5ZM409.5 460.5 413.4 461.5 412.2 465.8 408.3 464.7ZM392.6 469.0 394.4 469.0 394.4 470.9 392.6 470.9ZM393.8 473.8 398.0 474.2 397.7 478.2 393.5 477.8ZM399.6 475.3 405.1 477.8 404.5 479.1 399.1 476.6ZM394.0 481.3 398.6 481.7 398.1 486.8 393.5 486.4ZM394.4 486.7 405.1 489.6 403.8 494.5 393.1 491.6ZM417.5 475.6 421.9 478.2 418.9 483.4 414.5 480.9ZM423.3 478.6 427.7 481.1 425.2 485.5 420.8 483.0ZM426.7 466.6 433.1 469.6 431.8 472.3 425.4 469.3ZM423.1 470.0 427.4 472.5 425.4 476.0 421.0 473.5ZM426.7 473.4 429.3 474.9 427.8 477.6 425.2 476.0ZM421.7 487.0 425.5 488.4 424.1 492.2 420.3 490.8ZM438.2 470.4 443.5 473.4 440.4 478.6 435.2 475.6ZM435.1 476.5 439.5 479.0 437.5 482.5 433.1 480.0ZM432.9 481.9 438.2 484.9 435.7 489.2 430.4 486.2ZM434.3 487.1 440.4 490.6 438.4 494.1 432.3 490.6ZM446.6 466.7 450.1 468.7 448.1 472.2 444.6 470.2ZM451.9 471.0 458.9 475.0 454.9 482.0 447.9 478.0ZM445.6 478.8 449.1 480.8 447.1 484.3 443.6 482.3ZM429.4 490.6 443.5 495.7 442.0 500.0 427.8 494.8ZM427.9 495.7 433.4 498.8 429.6 505.4 424.2 502.2ZM435.7 499.1 440.0 501.6 436.9 507.0 432.6 504.5ZM423.8 502.8 430.9 505.4 426.2 518.4 419.1 515.8ZM433.7 506.4 438.4 508.1 436.4 513.5 431.7 511.8ZM430.2 512.0 433.7 513.3 431.1 520.4 427.6 519.1ZM436.7 513.1 441.4 514.8 438.4 523.1 433.7 521.4ZM442.6 514.6 446.1 515.9 443.1 524.1 439.6 522.8ZM448.0 515.4 453.9 517.6 450.9 525.8 445.0 523.7ZM457.4 513.2 462.1 515.0 457.9 526.7 453.1 525.0ZM461.8 518.1 466.5 519.9 463.5 528.1 458.8 526.4ZM467.9 521.7 473.8 523.8 471.2 530.9 465.3 528.7ZM475.7 516.7 482.8 519.3 477.2 534.6 470.1 532.0ZM455.9 505.2 462.8 506.5 461.9 511.4 455.0 510.2ZM473.6 507.4 482.1 509.7 480.6 515.0 472.1 512.7ZM478.1 494.4 483.0 495.7 480.4 505.4 475.5 504.1ZM651.4 528.1 655.4 529.9 653.7 533.6 649.7 531.7ZM656.2 532.7 658.1 533.4 656.0 539.0 654.1 538.4ZM662.0 533.8 666.8 536.6 664.3 541.0 659.5 538.1ZM667.7 536.3 674.4 538.7 672.6 543.5 666.0 541.0ZM657.3 542.8 662.6 544.7 661.0 549.1 655.7 547.1ZM664.3 544.2 669.6 546.1 667.4 552.1 662.1 550.2ZM671.8 544.4 676.5 546.2 674.6 551.5 669.9 549.7ZM668.5 540.3 672.3 541.7 670.9 545.5 667.1 544.1ZM649.5 547.0 653.1 548.7 652.1 550.9 648.4 549.2Z"/><path d="M53.2 58.9 57.9 60.8 56.8 63.6 52.1 61.7ZM54.0 208.7 57.9 209.4 57.0 214.3 53.1 213.6ZM135.9 219.3 142.9 218.3 143.6 223.2 136.6 224.2ZM183.5 113.4 188.8 113.4 188.8 118.3 183.5 118.3ZM191.6 110.6 198.5 110.6 198.5 113.9 191.6 113.9ZM198.8 111.2 202.2 111.2 202.2 115.5 198.8 115.5ZM201.8 110.9 208.4 110.9 208.4 119.5 201.8 119.5ZM208.2 112.7 212.4 112.7 212.4 119.3 208.2 119.3ZM199.4 140.7 216.4 135.8 218.7 144.0 201.7 148.9ZM216.3 135.3 223.0 133.3 225.5 142.0 218.8 143.9ZM208.8 134.4 222.0 130.6 223.0 134.2 209.8 137.9ZM196.2 141.8 199.3 140.9 200.7 145.7 197.6 146.6ZM227.3 130.6 236.9 129.0 237.7 133.6 228.1 135.3ZM229.1 136.3 234.9 134.8 235.9 139.0 230.1 140.4ZM227.0 43.6 232.7 45.7 231.0 50.4 225.3 48.3ZM667.0 31.2 673.0 31.2 673.0 34.8 667.0 34.8ZM913.6 401.6 919.1 402.5 918.4 406.4 912.9 405.5ZM892.1 420.4 899.0 421.7 897.9 427.6 891.0 426.3ZM303.1 95.7 311.9 92.1 315.9 101.8 307.1 105.4ZM294.4 101.0 300.0 98.7 301.1 101.5 295.5 103.8ZM300.0 118.4 305.1 116.5 307.0 121.6 301.9 123.5ZM314.6 112.4 321.1 110.0 326.4 124.6 319.9 127.0ZM332.1 119.4 337.3 117.5 337.9 119.1 332.7 121.0ZM326.9 130.3 331.1 128.8 331.6 130.2 327.4 131.7ZM913.4 401.8 918.6 402.7 918.0 406.3 912.8 405.4ZM892.1 420.7 899.7 421.8 898.8 427.9 891.3 426.8ZM907.9 567.6 930.5 571.6 928.7 581.4 906.2 577.5ZM-1.3 685.1 75.9 688.2 75.7 696.8 64.0 696.7 63.4 705.2 21.1 703.9 20.7 705.8 -1.3 704.9ZM38.9 721.1 73.4 722.4 73.1 732.6 38.3 731.3ZM38.3 734.7 73.7 735.9 73.4 740.7 38.0 739.7ZM77.8 722.4 82.9 723.1 79.7 751.0 74.9 750.4ZM556.9 855.8 561.8 855.8 561.8 860.2 556.9 860.2ZM639.9 888.6 643.0 886.8 645.3 890.9 642.2 892.7ZM367.5 230.1 379.3 230.7 379.1 234.0 367.4 233.4ZM377.8 231.2 382.1 233.7 380.6 236.3 376.3 233.8ZM364.4 255.0 369.5 255.0 369.5 260.9 364.4 260.9ZM363.8 260.1 372.0 260.1 372.0 266.8 363.8 266.8ZM376.2 254.2 383.9 254.2 383.9 256.7 376.2 256.7ZM379.2 256.7 383.4 256.7 383.4 260.1 379.2 260.1ZM388.9 255.0 396.0 255.0 396.0 258.4 388.9 258.4ZM393.0 258.4 398.0 258.4 398.0 261.2 393.0 261.2ZM400.2 255.9 404.4 255.9 404.4 258.4 400.2 258.4ZM404.4 133.9 411.5 131.3 412.3 133.5 405.2 136.1ZM413.0 131.0 418.8 129.1 421.1 136.5 415.4 138.3ZM408.4 141.8 410.0 141.8 410.0 150.2 408.4 150.2ZM408.4 148.5 415.9 148.5 415.9 150.2 408.4 150.2ZM406.6 167.8 412.8 168.9 411.8 174.5 405.6 173.4ZM420.9 166.1 426.9 165.2 427.7 171.2 421.7 172.0ZM431.9 163.8 440.9 164.8 440.2 171.1 431.2 170.1ZM414.0 177.8 419.3 178.7 418.5 183.0 413.2 182.1ZM413.1 189.2 419.7 190.1 418.8 196.7 412.1 195.8ZM421.9 192.0 431.9 193.4 430.7 201.7 420.7 200.3ZM433.6 191.4 442.6 192.6 441.1 202.9 432.2 201.7ZM446.3 194.6 453.8 195.7 452.6 204.0 445.1 203.0ZM455.7 195.2 464.9 196.5 464.0 202.5 454.9 201.2ZM469.4 197.8 477.4 198.9 476.5 204.9 468.5 203.8ZM487.8 204.7 498.9 205.7 498.3 212.0 487.3 211.1ZM514.0 206.8 522.7 208.0 521.8 214.3 513.2 213.1ZM519.4 218.3 522.1 218.3 522.1 220.3 519.4 220.3ZM528.3 211.6 534.9 212.6 534.1 218.9 527.4 218.0ZM532.9 220.5 535.5 220.5 535.5 223.5 532.9 223.5ZM541.6 212.3 548.5 213.3 547.6 219.6 540.7 218.6ZM552.1 216.7 561.2 218.3 559.9 225.2 550.9 223.6ZM407.2 212.7 439.6 217.9 438.7 223.5 406.3 218.4ZM442.7 217.8 448.7 218.8 447.8 224.1 441.9 223.2ZM451.9 218.8 456.5 219.5 455.4 226.5 450.8 225.8ZM459.9 220.1 465.5 220.9 464.9 225.3 459.2 224.4ZM468.6 221.0 474.9 222.0 474.0 228.0 467.7 227.0ZM480.9 225.0 488.2 223.4 489.1 228.0 481.9 229.6ZM494.4 224.7 501.0 225.7 500.2 230.7 493.6 229.6ZM504.9 226.0 513.4 227.8 512.2 233.7 503.6 231.9ZM516.8 228.9 522.5 229.8 522.0 232.8 516.4 231.9ZM525.8 229.2 534.6 231.4 533.2 237.2 524.4 235.1ZM538.4 231.8 547.0 233.4 545.8 240.3 537.2 238.8ZM550.0 233.0 560.3 234.5 559.3 241.1 549.0 239.7ZM416.7 226.2 425.0 227.6 423.5 235.9 415.2 234.4ZM426.4 227.1 434.6 228.8 433.2 235.4 425.0 233.6ZM438.9 230.0 448.1 231.9 446.6 238.8 437.4 236.9ZM448.4 233.3 455.7 234.6 454.6 240.9 447.3 239.6ZM457.0 235.3 464.9 236.7 463.7 243.6 455.8 242.2ZM466.4 237.4 473.3 238.6 472.1 245.2 465.2 244.0ZM478.0 240.4 484.3 241.5 483.0 248.5 476.8 247.4ZM486.4 242.2 493.3 243.4 492.4 248.7 485.5 247.5ZM495.0 242.8 503.5 244.6 501.9 252.2 493.4 250.4ZM433.9 239.3 436.5 239.3 436.5 241.6 433.9 241.6ZM452.3 243.3 455.0 243.3 455.0 245.6 452.3 245.6ZM461.5 247.0 464.2 247.0 464.2 249.7 461.5 249.7ZM481.3 249.2 483.7 249.2 483.7 251.2 481.3 251.2ZM489.2 252.5 491.9 252.5 491.9 254.9 489.2 254.9ZM405.6 237.9 410.5 241.3 408.4 244.4 403.5 240.9ZM416.8 242.7 423.9 246.5 421.7 250.6 414.6 246.8ZM405.1 254.7 412.8 255.4 412.3 261.1 404.6 260.4ZM433.0 250.0 444.8 252.5 443.4 259.1 431.6 256.6ZM449.2 252.8 461.4 255.4 459.8 263.0 447.6 260.4ZM433.0 265.6 435.4 267.0 434.0 269.3 431.7 267.9ZM457.4 264.7 468.2 268.6 465.6 275.6 454.9 271.7ZM414.9 271.6 419.6 272.4 419.2 274.4 414.6 273.6ZM419.8 273.1 424.8 274.0 423.7 279.9 418.8 279.0ZM457.8 274.5 469.4 276.6 468.6 280.9 457.1 278.8ZM480.0 258.4 497.7 262.2 496.1 269.4 478.4 265.7ZM502.9 263.0 510.1 264.3 509.1 269.9 501.9 268.6ZM511.5 264.5 519.1 265.8 518.3 270.8 510.7 269.4ZM523.1 265.6 532.7 267.0 531.9 273.0 522.2 271.6ZM534.9 266.4 545.2 267.9 544.2 274.9 533.9 273.4ZM534.9 250.8 543.5 249.6 544.6 257.6 536.0 258.8ZM546.7 250.9 554.3 249.8 555.3 256.8 547.6 257.9ZM590.9 213.7 597.5 214.9 596.6 220.2 590.0 219.0ZM601.0 218.2 608.0 219.5 606.9 225.7 599.9 224.5ZM613.0 216.5 621.0 217.9 620.0 223.1 612.1 221.7ZM623.1 223.2 629.1 224.2 627.8 231.5 621.8 230.5ZM610.4 228.9 614.1 229.2 613.9 231.2 610.3 230.9ZM641.0 224.1 646.6 224.6 645.8 234.0 640.1 233.5ZM648.9 226.7 656.3 227.3 655.7 234.0 648.3 233.4ZM659.3 225.6 665.0 226.1 664.4 232.5 658.7 232.0ZM668.5 225.0 677.1 226.5 675.6 235.1 667.0 233.6ZM680.8 229.3 691.1 230.8 690.2 237.1 679.9 235.7ZM562.1 234.5 571.2 235.3 570.6 241.3 561.6 240.5ZM580.3 236.4 586.3 236.4 586.3 244.5 580.3 244.5ZM599.7 236.9 608.0 238.4 606.8 245.0 598.6 243.5ZM611.8 238.5 620.7 240.1 619.6 246.4 610.7 244.8ZM622.1 240.4 629.3 241.6 628.1 248.6 620.9 247.3ZM631.9 241.4 639.2 242.6 638.1 249.2 630.8 248.0ZM640.4 242.0 647.6 243.3 646.4 250.3 639.1 249.0ZM651.4 243.5 657.7 244.6 656.5 250.8 650.3 249.7ZM659.6 245.8 663.6 245.1 664.1 248.1 660.1 248.8ZM558.9 251.4 563.6 250.7 564.4 257.0 559.8 257.7ZM565.9 249.8 567.6 249.8 567.6 251.2 565.9 251.2ZM564.2 259.2 565.9 259.2 565.9 260.9 564.2 260.9ZM573.9 253.3 581.8 251.9 583.0 258.5 575.1 259.9ZM591.0 251.8 598.0 253.0 596.8 260.0 589.8 258.7ZM599.5 255.3 606.5 256.5 605.4 262.8 598.4 261.6ZM608.5 257.0 614.8 258.1 613.8 263.4 607.6 262.3ZM616.8 257.1 624.1 258.4 623.0 264.4 615.7 263.1ZM629.3 259.7 635.9 260.9 634.7 267.5 628.1 266.3ZM598.6 252.2 600.9 252.2 600.9 254.2 598.6 254.2ZM559.7 267.8 564.4 267.8 564.4 274.2 559.7 274.2ZM570.4 267.5 577.1 268.1 576.5 275.1 569.8 274.5ZM585.9 268.9 594.8 270.5 593.5 278.1 584.6 276.5ZM596.0 270.3 604.6 271.8 603.6 277.4 595.0 275.9ZM612.6 273.0 620.9 274.4 619.8 280.7 611.5 279.3ZM624.3 275.2 635.8 277.2 635.0 281.9 623.4 279.8ZM662.4 261.1 666.8 264.8 660.3 272.5 655.9 268.8ZM669.5 253.6 676.7 251.6 678.0 256.5 670.8 258.4ZM680.5 247.2 688.8 246.5 689.5 254.5 681.2 255.2ZM692.8 246.4 699.5 246.9 699.0 252.0 692.3 251.4ZM679.4 268.4 685.1 268.9 684.5 275.9 678.8 275.4ZM681.6 276.0 683.7 276.0 683.7 278.0 681.6 278.0ZM687.8 265.3 696.4 263.7 697.9 272.3 689.3 273.8ZM292.9 285.0 299.9 285.4 299.7 289.7 292.7 289.4ZM324.4 285.6 330.9 287.3 329.6 292.2 323.1 290.5ZM394.7 342.9 399.7 343.3 399.3 348.7 394.2 348.2ZM340.1 348.8 359.1 350.1 357.9 368.1 347.8 367.6 347.8 360.2 339.3 359.2ZM335.3 380.5 344.9 381.9 344.3 386.5 334.6 385.2ZM346.1 385.5 348.5 385.5 348.5 387.9 346.1 387.9ZM340.3 389.0 347.5 390.2 346.7 395.2 339.4 393.9ZM346.3 393.4 348.3 393.4 348.3 395.4 346.3 395.4ZM339.9 398.0 348.6 397.2 349.0 401.9 340.3 402.7ZM360.0 394.9 365.4 399.4 361.5 404.0 356.1 399.5ZM418.1 285.3 425.4 286.6 424.4 292.2 417.1 290.9ZM426.4 290.9 431.0 291.3 430.6 296.0 425.9 295.6ZM420.5 296.4 428.8 297.2 428.4 301.8 420.1 301.1ZM413.1 301.6 417.8 302.4 417.0 306.7 412.4 305.9ZM450.6 287.0 456.0 287.0 456.0 291.7 450.6 291.7ZM463.2 288.1 466.8 286.4 470.0 293.1 466.3 294.8ZM451.0 296.1 453.3 296.1 453.3 298.5 451.0 298.5ZM455.2 295.7 462.9 296.1 462.5 302.8 454.8 302.4ZM461.0 305.6 468.4 306.0 468.1 312.1 460.7 311.7ZM438.3 300.3 442.7 302.9 440.5 306.6 436.1 304.1ZM443.6 304.1 447.5 307.4 444.2 311.2 440.4 308.0ZM447.8 308.6 450.6 311.9 446.8 315.2 444.0 311.8ZM425.7 315.7 431.3 316.9 430.3 321.8 424.7 320.6ZM433.6 316.7 440.1 314.9 440.8 317.5 434.3 319.2ZM447.2 319.2 451.8 320.0 451.0 324.7 446.4 323.9ZM405.0 310.5 409.7 310.5 409.7 316.6 405.0 316.6ZM405.0 318.6 409.7 318.6 409.7 323.6 405.0 323.6ZM405.0 330.7 409.0 330.7 409.0 336.0 405.0 336.0ZM404.8 344.8 407.9 344.8 407.9 350.1 404.8 350.1ZM463.1 320.3 465.4 320.3 465.4 322.3 463.1 322.3ZM467.4 316.1 473.5 316.1 473.5 321.1 467.4 321.1ZM468.6 324.1 474.0 324.1 474.0 330.5 468.6 330.5ZM478.9 323.8 482.9 324.1 482.8 326.1 478.7 325.8ZM480.4 326.4 485.4 326.9 485.0 332.2 479.9 331.8ZM471.3 333.7 475.3 333.7 475.3 338.7 471.3 338.7ZM485.1 336.0 489.1 336.4 488.7 341.4 484.7 341.1ZM489.7 342.4 492.1 342.4 492.1 344.1 489.7 344.1ZM476.0 282.2 483.6 282.9 483.0 289.9 475.3 289.2ZM488.3 281.4 495.0 282.0 494.5 287.7 487.8 287.1ZM498.4 281.4 504.4 282.0 503.9 287.6 497.9 287.1ZM506.3 282.7 516.3 284.1 515.1 292.4 505.1 291.0ZM519.6 283.2 527.9 284.3 526.6 293.6 518.3 292.5ZM530.6 283.8 538.9 285.0 537.8 293.0 529.5 291.8ZM541.3 285.4 547.9 286.4 547.2 291.3 540.6 290.4ZM549.7 286.2 557.0 287.2 556.3 292.2 549.0 291.2ZM482.9 300.8 493.3 299.9 493.9 306.5 483.5 307.5ZM496.0 299.0 504.1 299.7 503.6 305.3 495.5 304.6ZM505.1 299.5 512.4 300.1 512.0 305.8 504.6 305.2ZM514.2 300.1 521.9 300.8 521.3 307.5 513.6 306.8ZM529.4 300.7 536.8 301.3 536.3 307.0 528.9 306.3ZM540.3 303.0 547.4 302.4 547.9 308.0 540.8 308.7ZM552.9 303.3 560.3 304.0 559.8 309.7 552.4 309.0ZM530.1 311.8 535.2 312.3 534.9 315.3 529.9 314.8ZM488.8 315.1 495.8 315.7 495.1 323.7 488.1 323.1ZM500.4 315.9 508.4 316.6 507.6 325.3 499.6 324.6ZM511.2 317.6 519.9 318.3 519.3 324.7 510.6 323.9ZM531.6 323.1 538.0 322.5 538.5 328.2 532.1 328.8ZM495.9 332.7 507.3 333.3 507.0 339.7 495.6 339.1ZM505.8 333.5 512.5 333.9 512.2 338.9 505.5 338.5ZM516.0 335.2 520.7 335.5 520.5 339.5 515.8 339.3ZM532.6 340.2 538.6 338.0 540.8 344.0 534.8 346.2ZM542.6 342.1 546.9 342.8 546.3 346.5 542.0 345.7ZM550.5 342.5 557.3 344.3 555.5 351.1 548.7 349.3ZM453.3 363.4 465.4 364.0 465.1 369.4 453.0 368.8ZM495.3 354.3 497.6 354.3 497.6 356.7 495.3 356.7ZM495.3 359.4 497.6 359.4 497.6 361.7 495.3 361.7ZM495.3 363.9 497.6 363.9 497.6 366.6 495.3 366.6ZM488.7 362.0 491.7 362.0 491.7 364.7 488.7 364.7ZM501.7 354.4 507.3 354.9 507.0 358.9 501.3 358.4ZM510.1 354.4 517.4 355.0 517.1 359.0 509.7 358.4ZM521.0 357.8 526.7 358.3 526.2 364.0 520.5 363.5ZM526.2 355.8 536.2 357.2 535.4 362.6 525.5 361.2ZM539.9 357.3 559.8 360.8 558.7 367.1 538.8 363.6ZM495.7 370.5 501.4 371.0 501.2 374.0 495.5 373.5ZM509.0 370.6 512.4 370.6 512.4 372.6 509.0 372.6ZM478.1 370.4 484.5 375.8 480.2 380.9 473.8 375.5ZM480.5 377.6 484.4 380.8 480.5 385.4 476.6 382.2ZM485.7 385.0 491.4 389.7 487.0 394.8 481.4 390.1ZM491.1 393.0 496.9 396.3 492.7 403.6 486.9 400.2ZM486.6 371.0 490.7 368.1 494.6 373.6 490.4 376.5ZM491.8 377.2 494.8 375.0 497.7 379.2 494.7 381.3ZM494.3 384.5 497.1 382.6 499.6 386.2 496.8 388.1ZM501.5 382.1 510.6 384.5 509.1 390.0 500.1 387.6ZM501.6 377.2 505.8 378.3 504.7 382.5 500.5 381.4ZM503.4 389.9 516.0 394.5 514.6 398.3 502.0 393.7ZM517.2 381.0 528.7 383.1 527.7 388.7 516.2 386.7ZM516.4 391.0 527.7 394.0 526.8 397.2 515.5 394.2ZM532.5 383.7 544.0 386.2 542.6 392.7 531.1 390.3ZM544.5 387.0 554.2 389.6 552.4 396.1 542.7 393.5ZM553.5 390.3 560.0 392.0 558.5 397.9 552.0 396.1ZM560.1 285.9 564.8 286.6 563.9 292.5 559.3 291.9ZM568.3 284.9 575.3 285.9 574.2 293.5 567.2 292.6ZM582.6 287.2 592.2 288.6 591.1 296.2 581.5 294.9ZM592.6 289.0 600.6 290.2 599.6 297.1 591.6 296.0ZM603.7 288.9 614.0 290.7 612.6 298.6 602.3 296.8ZM615.3 290.5 622.6 291.8 621.2 299.7 613.9 298.4ZM624.5 291.9 632.7 293.4 631.4 300.6 623.2 299.2ZM584.4 279.9 591.1 280.5 590.9 282.8 584.2 282.2ZM602.6 280.0 606.6 280.3 606.4 282.7 602.4 282.3ZM623.5 278.5 635.1 280.6 634.1 286.5 622.5 284.5ZM650.5 282.9 658.5 284.3 657.4 290.6 649.4 289.2ZM669.4 285.6 676.6 286.9 675.5 293.5 668.2 292.2ZM679.7 286.8 686.3 288.0 685.3 294.0 678.7 292.8ZM688.5 285.9 696.6 285.9 696.6 291.6 688.5 291.6ZM689.4 299.1 690.7 299.1 690.7 300.5 689.4 300.5ZM693.6 301.3 694.9 301.3 694.9 303.0 693.6 303.0ZM563.5 304.0 573.8 305.8 572.6 312.4 562.3 310.6ZM585.7 306.2 594.7 307.5 593.7 314.2 584.7 312.9ZM596.8 307.3 605.5 308.5 604.4 316.5 595.7 315.3ZM608.2 308.7 617.5 310.0 616.5 316.7 607.2 315.4ZM617.8 310.4 627.4 311.8 626.4 319.1 616.7 317.7ZM667.1 301.9 676.0 303.5 675.0 309.1 666.1 307.5ZM676.5 309.0 684.5 310.4 683.4 316.4 675.5 315.0ZM686.3 307.4 692.6 308.0 692.1 313.7 685.8 313.1ZM634.4 319.2 643.4 320.4 642.3 328.1 633.3 326.8ZM647.1 316.1 656.7 317.5 655.8 323.8 646.2 322.4ZM656.4 317.5 665.7 318.8 664.9 324.8 655.6 323.4ZM669.0 319.5 678.6 321.2 677.5 327.8 667.9 326.1ZM678.7 321.9 687.3 323.4 686.3 329.4 677.7 327.9ZM564.5 317.8 571.8 319.1 570.6 326.1 563.3 324.8ZM561.8 326.6 567.6 329.9 564.2 335.8 558.4 332.4ZM582.1 316.1 588.2 316.1 588.2 321.8 582.1 321.8ZM582.8 327.1 589.9 327.1 589.9 334.2 582.8 334.2ZM582.7 337.0 586.7 337.0 586.7 341.1 582.7 341.1ZM582.7 345.6 587.7 345.6 587.7 351.0 582.7 351.0ZM588.9 351.5 591.5 351.5 591.5 353.5 588.9 353.5ZM582.7 354.8 586.7 354.8 586.7 359.5 582.7 359.5ZM582.7 363.1 587.7 363.1 587.7 368.1 582.7 368.1ZM581.3 371.6 587.3 371.6 587.3 378.0 581.3 378.0ZM569.5 340.3 575.2 340.8 574.6 347.9 568.9 347.4ZM560.0 344.8 564.7 344.8 564.7 350.1 560.0 350.1ZM560.0 361.5 564.0 361.5 564.0 367.9 560.0 367.9ZM566.9 363.7 574.3 364.4 573.9 369.1 566.5 368.4ZM614.5 329.5 619.6 329.5 619.6 335.2 614.5 335.2ZM615.3 338.5 621.2 337.4 622.2 343.0 616.2 344.1ZM609.7 346.1 618.7 346.8 618.3 351.5 609.3 350.7ZM607.4 353.7 615.5 354.4 614.9 360.7 606.9 360.0ZM598.6 365.5 604.6 363.3 606.9 369.6 600.9 371.8ZM628.8 358.2 633.8 358.2 633.8 366.2 628.8 366.2ZM633.5 335.5 643.2 338.1 641.5 344.6 631.8 342.0ZM647.5 334.1 656.7 335.7 655.4 343.3 646.1 341.7ZM656.8 337.0 664.1 338.2 662.8 345.5 655.6 344.2ZM664.7 340.7 671.0 341.8 670.0 347.5 663.7 346.3ZM674.9 341.7 681.2 342.9 680.0 349.8 673.7 348.7ZM685.3 343.0 693.4 345.1 691.4 352.9 683.3 350.8ZM703.8 347.3 710.6 349.2 708.8 356.0 702.0 354.1ZM713.4 351.9 715.6 352.5 714.3 357.4 712.1 356.8ZM642.1 356.8 648.4 358.0 647.3 364.2 641.0 363.1ZM650.8 355.1 660.1 356.7 658.8 364.3 649.5 362.7ZM660.5 358.1 668.1 359.4 666.9 366.4 659.3 365.0ZM669.0 358.6 678.6 360.3 677.5 366.5 667.9 364.8ZM616.6 370.7 623.6 373.2 621.5 378.9 614.6 376.4ZM627.1 375.1 632.4 376.0 631.2 382.9 625.9 382.0ZM609.7 380.2 617.5 382.3 616.0 387.8 608.2 385.7ZM625.2 383.8 629.8 384.6 629.0 389.3 624.4 388.4ZM620.5 382.0 624.5 382.7 624.3 384.0 620.3 383.3ZM640.1 371.0 647.4 371.6 646.7 379.6 639.4 379.0ZM656.9 374.6 665.0 375.3 664.4 381.7 656.4 381.0ZM654.0 380.8 656.3 380.8 656.3 383.9 654.0 383.9ZM665.4 376.4 671.7 376.9 671.1 384.0 664.7 383.4ZM676.0 377.9 681.6 378.4 681.3 382.4 675.6 381.9ZM711.8 371.9 717.7 371.9 717.7 394.9 702.6 390.7 703.5 385.7 709.0 386.4ZM565.5 382.4 571.8 383.0 571.3 389.0 565.0 388.4ZM563.2 391.6 568.9 393.6 566.8 399.3 561.2 397.2ZM578.4 396.2 584.8 395.7 585.2 400.4 578.8 400.9ZM592.4 387.0 599.7 388.2 598.7 393.5 591.5 392.2ZM636.3 388.6 644.2 390.0 643.1 396.3 635.2 394.9ZM648.5 391.8 656.8 393.2 655.3 401.5 647.1 400.0ZM657.7 394.5 665.0 395.8 663.6 403.7 656.3 402.5ZM713.7 352.2 720.5 354.0 719.0 359.8 712.2 358.0ZM723.1 354.0 729.9 355.9 728.0 363.0 721.2 361.2ZM730.3 354.2 731.9 354.6 731.3 356.9 729.7 356.4ZM734.9 354.9 740.9 357.1 739.1 362.1 733.1 360.0ZM742.5 358.9 750.0 361.7 747.3 369.2 739.7 366.5ZM713.5 371.9 731.6 377.3 726.1 396.8 702.6 390.4 703.4 386.2 708.5 387.0ZM775.2 348.9 795.2 346.1 796.0 352.1 776.1 354.9ZM780.6 353.7 786.3 353.7 786.3 356.7 780.6 356.7ZM794.0 344.8 796.4 344.8 796.4 347.4 794.0 347.4ZM776.7 342.8 781.5 344.1 781.2 345.4 776.3 344.1ZM784.8 361.0 787.1 361.0 787.1 363.1 784.8 363.1ZM790.8 361.5 799.7 363.4 798.3 370.0 789.4 368.1ZM340.5 399.4 349.3 400.1 349.0 402.6 340.3 401.9ZM355.7 398.9 365.6 400.6 365.2 403.1 355.3 401.4ZM335.0 405.5 343.8 406.0 343.5 412.5 334.7 412.1ZM355.5 405.5 361.5 406.0 360.9 412.1 354.9 411.5ZM359.8 412.6 361.6 412.6 361.6 414.3 359.8 414.3ZM323.2 411.3 331.0 412.0 330.7 415.3 322.9 414.6ZM313.7 417.9 326.0 420.5 325.6 422.2 313.3 419.6ZM293.4 424.8 295.9 425.0 295.5 430.2 293.0 430.0ZM306.7 423.5 310.0 423.8 309.3 431.5 306.0 431.2ZM325.8 423.6 329.8 423.8 329.1 437.6 325.1 437.4ZM306.9 429.4 325.4 432.7 324.9 435.4 306.4 432.1ZM310.6 432.8 321.8 434.3 321.2 438.8 310.0 437.2ZM321.6 433.2 328.5 433.6 328.2 439.1 321.4 438.7ZM294.5 431.1 306.2 433.6 304.6 441.0 293.0 438.5ZM308.0 439.5 310.0 439.5 310.0 441.3 308.0 441.3ZM333.6 424.9 338.1 425.3 337.6 430.8 333.1 430.4ZM346.6 420.3 354.2 422.3 352.5 428.6 344.9 426.6ZM356.5 421.6 364.2 422.3 363.7 427.8 356.0 427.1ZM362.1 426.5 365.3 426.8 365.1 429.3 361.9 429.0ZM352.8 428.6 357.2 429.8 356.0 434.2 351.7 433.0ZM358.6 431.1 363.5 432.4 362.3 436.7 357.5 435.4ZM361.1 438.5 362.9 438.5 362.9 440.5 361.1 440.5ZM313.8 443.7 318.3 444.1 318.0 446.9 313.5 446.5ZM320.5 443.1 326.1 443.6 325.6 449.1 320.1 448.6ZM332.5 441.7 339.9 443.0 338.9 448.7 331.5 447.4ZM343.4 442.6 350.2 444.4 348.6 450.3 341.9 448.4ZM352.5 447.0 359.0 448.8 357.7 453.9 351.1 452.1ZM364.3 448.8 366.8 449.2 365.4 456.7 363.0 456.2ZM291.7 451.3 297.9 452.3 296.1 462.5 290.0 461.4ZM300.7 452.9 307.5 454.7 306.0 460.1 299.2 458.2ZM309.7 454.4 314.6 455.3 312.6 466.6 307.7 465.8ZM317.7 456.9 324.7 457.6 324.1 464.1 317.1 463.5ZM316.5 464.5 320.2 465.1 319.5 469.1 315.8 468.4ZM322.8 463.9 326.3 464.5 325.3 469.7 321.9 469.1ZM333.6 458.5 340.2 460.2 338.9 465.1 332.3 463.3ZM345.6 461.1 350.2 462.3 349.0 466.9 344.4 465.7ZM341.9 467.8 344.3 468.4 343.4 471.6 341.0 470.9ZM362.6 460.3 366.4 460.3 366.4 467.8 362.6 467.8ZM290.8 465.7 297.6 467.6 295.8 474.1 289.0 472.3ZM296.8 469.4 300.5 470.0 299.9 473.7 296.1 473.1ZM304.9 468.0 311.2 469.7 309.8 475.1 303.5 473.4ZM310.6 474.5 314.0 475.5 313.2 478.6 309.8 477.7ZM320.3 471.9 327.3 473.1 326.0 480.0 319.1 478.8ZM289.5 482.1 295.3 482.9 294.6 487.9 288.8 487.1ZM302.8 483.8 308.5 484.8 307.7 489.5 302.0 488.5ZM310.4 486.3 312.9 486.7 312.4 489.5 309.9 489.0ZM318.8 486.7 324.6 488.3 323.1 494.1 317.2 492.5ZM333.0 487.2 341.2 488.6 340.2 494.1 332.1 492.6ZM344.0 484.6 347.3 484.9 346.8 489.9 343.6 489.6ZM344.1 490.8 350.3 491.9 349.3 497.5 343.1 496.4ZM358.2 482.8 366.8 484.3 365.3 493.0 356.6 491.4ZM291.2 491.1 297.5 492.8 296.0 498.4 289.7 496.7ZM302.8 494.5 309.2 495.6 308.2 501.3 301.8 500.2ZM316.6 498.2 322.1 499.2 320.9 505.6 315.5 504.7ZM333.3 497.9 338.7 499.3 337.4 504.2 332.0 502.8ZM337.0 503.8 338.8 503.8 338.8 505.8 337.0 505.8ZM328.1 506.2 330.6 506.2 330.6 508.5 328.1 508.5ZM285.4 503.8 291.0 502.8 292.5 510.9 286.8 511.9ZM298.9 507.7 309.3 509.5 308.3 515.0 297.9 513.2ZM310.7 511.0 316.9 512.1 316.1 516.3 309.9 515.2ZM326.5 512.8 336.4 514.5 335.9 517.0 326.1 515.2ZM740.1 403.5 749.8 406.1 748.2 412.1 738.5 409.5ZM714.8 415.4 719.2 416.6 718.2 420.2 713.8 419.1ZM733.4 416.1 740.2 418.0 738.6 424.0 731.8 422.2ZM729.8 415.7 732.9 416.5 732.6 417.7 729.5 416.9ZM741.4 419.4 744.3 420.1 743.8 422.1 740.9 421.3ZM714.5 425.8 716.4 426.2 715.6 431.1 713.6 430.8ZM728.8 425.5 734.9 427.1 733.5 432.2 727.5 430.6ZM724.5 428.4 727.4 429.2 726.6 431.9 723.7 431.1ZM738.6 428.7 742.3 429.3 742.1 430.8 738.4 430.2ZM726.4 434.0 733.2 435.8 731.7 441.4 724.9 439.5ZM723.4 439.5 725.9 439.5 725.9 440.8 723.4 440.8ZM724.0 442.4 730.6 444.2 729.1 449.7 722.5 448.0ZM721.0 459.3 726.7 460.3 725.8 465.0 720.2 464.0ZM717.1 461.0 719.6 461.0 719.6 462.0 717.1 462.0ZM722.1 468.3 730.0 469.7 729.0 475.3 721.1 474.0ZM725.5 478.5 729.9 479.3 728.9 485.2 724.4 484.4ZM720.3 479.1 722.8 479.1 722.8 480.1 720.3 480.1ZM728.0 487.3 737.7 489.9 736.4 494.7 726.7 492.1ZM736.6 490.1 741.5 491.4 740.3 495.7 735.5 494.4ZM739.6 495.0 743.0 495.9 742.4 498.3 739.0 497.4ZM738.6 487.1 740.4 487.1 740.4 488.6 738.6 488.6ZM714.5 496.5 716.4 496.9 715.6 501.8 713.6 501.5ZM733.0 501.6 741.5 503.9 740.2 508.8 731.7 506.5ZM729.9 501.8 734.2 502.9 733.8 504.6 729.4 503.5ZM746.8 505.1 750.4 506.1 749.5 509.5 745.9 508.5ZM753.5 507.6 759.6 509.3 757.8 515.8 751.8 514.2ZM764.1 507.3 771.4 509.3 769.8 515.4 762.5 513.4ZM775.1 509.4 788.5 513.0 787.2 517.8 773.8 514.2ZM714.8 506.3 720.2 507.8 718.7 513.3 713.3 511.9ZM326.5 515.3 335.1 516.8 334.2 521.7 325.6 520.2ZM337.3 516.0 344.7 517.3 343.4 524.8 336.0 523.4ZM286.0 519.7 291.7 520.7 290.5 527.4 284.9 526.4ZM292.7 518.1 297.9 520.0 296.4 524.0 291.2 522.1ZM298.7 521.6 306.3 524.3 304.2 530.0 296.7 527.2ZM316.2 525.3 321.1 526.2 319.9 533.1 315.0 532.2ZM323.7 524.0 328.0 524.4 327.4 531.1 323.1 530.7ZM323.8 531.5 329.9 532.5 328.6 540.0 322.5 538.9ZM334.3 527.6 341.3 528.8 340.2 535.0 333.2 533.8ZM334.8 535.8 341.2 536.9 340.2 542.6 333.8 541.5ZM363.7 525.6 367.7 527.0 364.7 535.3 360.7 533.8ZM274.4 533.7 279.5 535.1 278.8 537.7 273.7 536.4ZM282.2 535.5 289.5 537.5 287.3 545.5 280.1 543.5ZM276.4 541.2 281.8 542.7 280.5 547.3 275.2 545.8ZM289.1 542.6 292.1 543.7 290.0 549.6 286.9 548.5ZM293.2 541.2 300.0 543.0 298.4 549.1 291.6 547.2ZM291.9 549.3 298.0 550.9 296.4 556.8 290.4 555.1ZM307.4 540.1 309.4 540.1 309.4 542.1 307.4 542.1ZM306.7 544.0 312.3 545.0 311.3 550.7 305.7 549.7ZM311.9 540.2 321.2 542.7 319.9 547.5 310.6 545.1ZM320.9 544.7 329.4 547.0 327.7 553.1 319.3 550.8ZM315.7 548.0 317.2 548.3 316.6 551.3 315.2 551.0ZM307.6 557.0 314.1 553.2 317.2 558.4 310.6 562.2ZM320.0 556.5 322.9 557.5 322.3 558.9 319.5 557.9ZM285.4 557.2 293.4 559.4 291.7 565.7 283.7 563.5ZM303.0 560.0 307.0 561.4 305.5 565.4 301.5 564.0ZM303.8 565.7 309.3 567.2 308.0 572.3 302.4 570.8ZM314.4 566.3 316.7 566.3 316.7 567.8 314.4 567.8ZM281.3 565.9 284.2 566.7 283.2 570.3 280.3 569.5ZM285.6 568.7 292.4 570.5 291.0 575.6 284.2 573.8ZM283.1 578.0 289.9 579.8 288.5 585.1 281.7 583.3ZM300.2 575.7 307.0 577.5 305.2 584.3 298.4 582.5ZM297.5 584.0 301.1 585.0 299.7 590.3 296.0 589.4ZM277.9 589.4 286.5 590.9 285.4 597.6 276.7 596.0ZM294.1 590.7 301.5 592.0 300.6 597.5 293.1 596.1ZM341.6 549.4 345.8 550.9 344.2 555.4 340.0 553.9ZM347.1 553.1 351.0 555.3 348.7 559.3 344.8 557.0ZM339.9 556.6 345.4 559.7 342.6 564.5 337.2 561.4ZM335.0 560.7 337.0 560.7 337.0 562.2 335.0 562.2ZM350.4 548.5 356.0 550.6 354.2 555.5 348.6 553.5ZM354.9 539.1 359.7 541.8 357.2 546.2 352.4 543.4ZM360.9 537.3 364.1 540.1 360.1 544.9 356.8 542.1ZM363.9 558.1 367.1 560.0 364.6 564.3 361.3 562.4ZM359.6 563.8 363.6 566.0 361.3 569.9 357.4 567.7ZM354.3 570.5 358.0 572.6 355.9 576.3 352.2 574.1ZM336.2 567.6 341.3 569.0 340.1 573.6 335.0 572.2ZM329.1 572.0 336.2 574.6 334.1 580.5 327.0 577.9ZM326.2 572.8 329.8 573.8 329.5 575.2 325.8 574.2ZM324.8 582.9 329.3 583.7 328.3 588.9 323.9 588.1ZM318.8 591.0 324.2 592.0 323.5 595.9 318.1 595.0ZM346.2 582.5 349.9 583.2 348.9 588.8 345.2 588.2ZM351.5 585.9 353.9 586.7 352.3 591.0 350.0 590.1ZM358.5 583.4 365.9 584.7 364.9 590.4 357.5 589.1ZM337.1 594.6 342.3 596.5 339.9 603.1 334.7 601.2ZM342.7 598.3 350.0 600.2 347.4 609.9 340.1 608.0ZM351.3 602.6 357.2 604.8 355.1 610.7 349.2 608.5ZM358.9 607.6 364.3 609.6 362.1 615.7 356.6 613.7ZM324.0 621.5 328.7 623.2 326.6 628.9 321.9 627.2ZM332.8 617.7 337.7 619.5 335.9 624.5 331.0 622.6ZM340.9 618.9 347.3 621.3 345.4 626.5 339.0 624.1ZM351.2 622.8 355.3 624.3 353.9 628.1 349.9 626.6ZM359.2 625.3 363.4 626.9 361.8 631.4 357.5 629.8ZM269.0 606.3 295.3 607.7 295.0 614.0 268.7 612.6ZM256.5 605.5 262.1 606.0 261.1 618.5 255.4 618.0ZM263.4 620.7 271.2 621.2 270.9 626.4 263.2 626.0ZM291.9 618.9 295.4 619.0 294.7 631.6 291.2 631.4ZM270.8 629.2 287.1 630.6 286.9 632.6 270.7 631.2ZM736.1 517.0 742.3 518.1 741.3 523.8 735.1 522.7ZM716.7 527.9 722.7 528.2 722.6 531.7 716.5 531.4ZM714.2 535.4 716.0 535.5 715.8 539.8 714.0 539.7ZM719.5 536.5 725.6 538.1 724.1 543.7 718.0 542.1ZM735.4 547.3 742.4 547.9 742.0 552.5 735.0 551.8ZM746.0 548.8 751.7 549.8 751.0 554.0 745.3 553.0ZM753.3 549.3 754.3 549.5 753.8 552.5 752.8 552.3ZM745.8 556.0 750.0 556.7 749.2 561.4 745.0 560.7ZM763.4 520.2 769.9 520.8 769.3 527.3 762.8 526.8ZM773.2 522.3 778.2 522.8 777.8 527.3 772.8 526.8ZM783.7 515.2 790.1 516.4 789.2 521.3 782.8 520.2ZM799.1 515.7 805.8 516.9 804.6 523.8 797.9 522.6ZM784.2 525.8 788.9 526.6 788.1 531.3 783.4 530.5ZM797.2 525.1 802.3 526.4 800.8 532.0 795.7 530.7ZM760.0 531.5 766.8 532.1 765.9 541.9 759.2 541.3ZM770.5 537.7 775.7 538.6 774.8 543.8 769.6 542.9ZM779.3 537.8 785.8 539.0 784.7 544.9 778.3 543.8ZM791.8 537.5 798.5 535.1 800.6 541.0 794.0 543.4ZM759.4 544.5 765.1 545.5 764.0 552.0 758.3 551.0ZM768.6 547.7 772.6 548.4 771.6 553.8 767.7 553.1ZM778.1 549.2 782.0 549.9 781.0 555.6 777.0 554.9ZM792.0 544.4 796.8 545.7 795.5 550.8 790.6 549.5ZM758.4 553.5 762.4 554.2 761.7 557.6 757.8 556.9ZM757.3 559.0 762.5 559.9 761.6 565.1 756.4 564.2ZM764.3 561.3 771.7 562.6 770.9 567.3 763.5 566.0ZM774.1 565.4 780.1 566.4 778.6 574.6 772.7 573.5ZM789.1 553.6 794.7 555.1 792.5 563.1 787.0 561.6ZM786.9 563.3 792.5 564.8 791.0 570.4 785.4 568.9ZM784.3 573.4 790.2 574.4 789.3 579.6 783.4 578.6ZM719.7 612.3 727.0 614.3 724.6 623.0 717.4 621.1ZM730.6 619.3 737.4 621.1 735.6 627.9 728.8 626.1ZM723.7 624.4 732.2 626.7 730.6 632.8 722.1 630.5ZM282.0 632.0 290.8 632.0 290.8 635.8 282.0 635.8ZM314.6 635.1 332.9 641.4 331.6 654.0 312.8 647.1ZM330.3 634.8 355.4 643.5 351.7 655.2 329.1 647.7ZM292.1 669.7 331.0 678.2 326.8 696.3 288.0 687.6ZM366.3 631.3 371.2 632.2 370.8 634.7 365.8 633.8ZM374.8 631.2 381.2 632.4 380.3 637.3 373.9 636.2ZM385.4 631.3 390.8 632.3 389.8 637.7 384.4 636.8ZM392.8 631.7 398.3 632.6 397.4 637.3 392.0 636.4ZM401.7 634.1 412.1 636.9 410.6 642.5 400.2 639.7ZM414.9 636.1 419.8 637.0 418.8 642.9 413.8 642.1ZM422.1 641.0 427.1 641.9 425.9 648.6 420.9 647.7ZM433.4 639.3 438.9 639.8 438.5 644.8 433.0 644.3ZM437.1 650.6 442.1 651.1 441.8 655.3 436.7 654.9ZM449.1 639.3 454.1 639.8 453.6 644.8 448.6 644.3ZM457.4 640.7 462.7 641.2 462.1 647.2 456.9 646.7ZM466.2 641.3 471.4 641.8 470.9 647.8 465.7 647.3ZM474.4 642.6 479.6 643.0 479.1 649.0 473.8 648.6ZM448.7 650.1 453.7 650.6 453.2 656.6 448.2 656.1ZM466.6 656.3 473.4 656.9 473.0 660.9 466.3 660.3ZM449.3 662.5 458.8 663.3 458.4 668.1 448.9 667.2ZM466.6 664.6 471.6 665.0 471.2 669.7 466.2 669.3ZM418.1 667.4 423.0 668.3 421.9 674.4 417.0 673.6ZM430.9 670.8 436.4 671.3 436.0 676.0 430.5 675.6ZM452.9 672.6 457.9 673.0 457.4 678.5 452.4 678.1ZM465.4 673.9 475.4 674.8 475.0 679.8 465.0 678.9ZM415.2 675.7 421.2 677.3 419.8 682.9 413.7 681.3ZM429.2 684.3 436.2 684.9 435.8 689.4 428.8 688.8ZM441.6 685.1 448.4 685.7 447.8 691.9 441.1 691.3ZM452.9 686.7 458.9 687.3 458.6 690.8 452.6 690.2ZM461.3 689.0 470.8 689.8 470.3 694.8 460.8 694.0ZM464.7 685.4 467.4 685.4 467.4 687.1 464.7 687.1ZM474.4 685.1 479.6 685.6 479.1 692.3 473.8 691.9ZM413.5 686.4 420.1 687.6 419.0 694.3 412.3 693.1ZM425.9 692.5 429.0 693.4 427.9 697.5 424.8 696.7ZM408.2 696.9 414.4 698.0 413.4 703.9 407.2 702.8ZM425.4 699.5 432.6 700.1 432.2 705.1 424.9 704.5ZM442.5 698.4 448.8 698.9 448.1 706.2 441.9 705.7ZM451.7 699.4 457.7 699.9 457.3 704.4 451.3 703.9ZM467.4 696.1 471.2 696.5 470.5 704.7 466.7 704.4ZM464.3 695.8 468.8 696.2 468.6 698.7 464.1 698.3ZM423.6 713.1 429.4 713.6 428.9 719.1 423.1 718.6ZM433.5 712.8 439.7 713.4 439.1 720.6 432.9 720.1ZM442.0 714.2 447.5 714.7 447.0 720.5 441.5 720.0ZM449.1 714.6 455.3 715.1 454.9 720.1 448.6 719.6ZM458.8 715.5 465.1 716.0 464.5 723.0 458.2 722.5ZM465.7 715.6 471.5 716.1 470.9 722.9 465.1 722.4ZM430.1 713.0 432.6 713.2 432.4 715.5 429.9 715.2ZM440.1 712.6 441.9 712.8 441.7 714.5 440.0 714.4ZM569.0 631.6 578.5 632.1 578.3 635.9 568.8 635.4ZM593.9 632.0 598.1 632.2 597.8 638.3 593.6 638.0ZM509.3 644.4 515.3 644.7 515.0 649.7 509.0 649.4ZM520.4 644.4 526.0 644.7 525.7 650.2 520.1 649.9ZM509.8 652.0 514.8 652.2 514.5 657.2 509.5 657.0ZM519.2 652.6 524.7 652.9 524.4 657.9 518.9 657.6ZM529.0 646.8 536.0 646.1 536.6 652.9 529.6 653.5ZM539.0 647.5 544.7 648.0 544.3 653.5 538.5 653.0ZM553.1 647.6 558.6 647.8 558.3 652.9 552.8 652.6ZM561.5 648.1 569.2 648.8 568.8 654.0 561.0 653.4ZM572.6 648.7 579.4 649.3 578.9 654.8 572.2 654.2ZM581.6 648.8 588.8 649.4 588.3 655.9 581.0 655.3ZM591.0 650.0 598.2 650.7 597.7 656.7 590.5 656.0ZM516.0 692.7 519.7 693.1 519.6 694.8 515.8 694.5ZM520.5 696.3 533.5 697.5 533.1 702.0 520.1 700.8ZM496.4 702.0 515.4 703.7 514.6 713.2 495.6 711.5ZM488.7 717.8 495.2 718.4 494.6 725.7 488.1 725.1ZM500.7 717.4 514.5 718.6 513.5 729.9 499.7 728.7ZM506.8 724.4 524.3 725.9 523.7 732.9 506.2 731.4ZM522.0 719.2 534.5 720.3 533.7 729.8 521.2 728.7ZM497.0 729.4 504.2 730.7 503.4 735.4 496.2 734.1ZM528.1 731.9 530.9 732.2 530.5 735.9 527.8 735.7ZM513.0 735.4 531.7 737.0 531.4 740.8 512.6 739.1ZM601.9 636.9 607.4 637.2 607.2 641.4 601.7 641.1ZM610.8 637.5 615.6 637.8 615.3 642.0 610.6 641.8ZM620.1 637.5 626.9 637.8 626.6 642.8 619.8 642.5ZM629.5 638.1 635.8 638.4 635.5 643.5 629.3 643.1ZM640.1 637.5 644.6 637.8 644.3 642.8 639.8 642.5ZM663.7 639.3 669.7 639.8 669.2 645.3 663.2 644.8ZM671.8 640.1 678.4 640.7 677.8 647.0 671.3 646.4ZM680.5 641.8 687.2 642.3 686.8 647.3 680.0 646.8ZM693.6 643.0 701.6 643.7 701.2 648.7 693.2 648.0ZM710.8 643.3 714.5 643.9 713.7 648.4 710.0 647.7ZM692.3 631.2 704.8 632.3 704.6 634.8 692.1 633.7ZM663.0 631.7 670.0 632.3 669.9 633.8 662.8 633.2ZM605.8 651.3 610.5 651.6 610.3 655.8 605.5 655.6ZM618.2 652.0 623.2 652.2 623.0 657.2 618.0 657.0ZM602.0 659.5 607.3 659.8 607.0 665.3 601.8 665.0ZM610.5 659.6 615.2 659.9 614.9 665.9 610.1 665.6ZM618.3 660.1 623.1 660.4 622.8 665.4 618.1 665.1ZM626.0 655.9 632.9 657.1 632.0 662.1 625.1 660.9ZM632.1 654.0 634.2 654.0 634.2 655.7 632.1 655.7ZM635.9 654.4 642.5 654.8 642.2 660.3 635.6 659.9ZM646.3 657.3 653.7 658.6 652.6 665.0 645.2 663.7ZM660.7 662.4 668.7 662.8 668.4 668.1 660.4 667.7ZM667.0 656.0 668.8 656.0 668.8 658.2 667.0 658.2ZM670.9 662.3 673.2 662.3 673.2 664.5 670.9 664.5ZM672.3 655.3 678.4 655.6 678.1 661.4 672.0 661.1ZM684.2 659.6 695.9 660.2 695.6 666.4 683.8 665.8ZM614.0 727.9 618.0 728.1 617.7 733.7 613.7 733.4ZM714.5 643.8 717.7 644.7 716.5 649.0 713.3 648.2ZM720.0 641.9 730.6 645.7 729.3 649.3 718.7 645.4ZM728.7 642.2 732.3 643.1 730.7 649.0 727.1 648.0ZM738.4 668.4 747.4 669.2 746.9 675.4 737.8 674.7ZM367.9 552.3 372.3 554.8 370.4 558.0 366.0 555.5ZM373.5 552.9 376.8 554.8 376.0 556.1 372.8 554.2ZM369.3 558.8 373.7 561.3 371.4 565.3 367.1 562.7ZM367.3 558.2 369.5 559.5 367.2 563.4 365.0 562.1ZM409.1 581.0 414.1 581.5 413.8 585.7 408.8 585.3ZM302.2 102.2 305.7 100.7 307.1 104.3 303.6 105.7ZM377.3 230.1 382.2 232.4 380.6 235.9 375.7 233.6Z"/><circle cx="47.0" cy="218.2" r="7.5"/><circle cx="65.0" cy="215.0" r="7.5"/><circle cx="311.5" cy="645.2" r="3.1"/></g></svg></body></html>
